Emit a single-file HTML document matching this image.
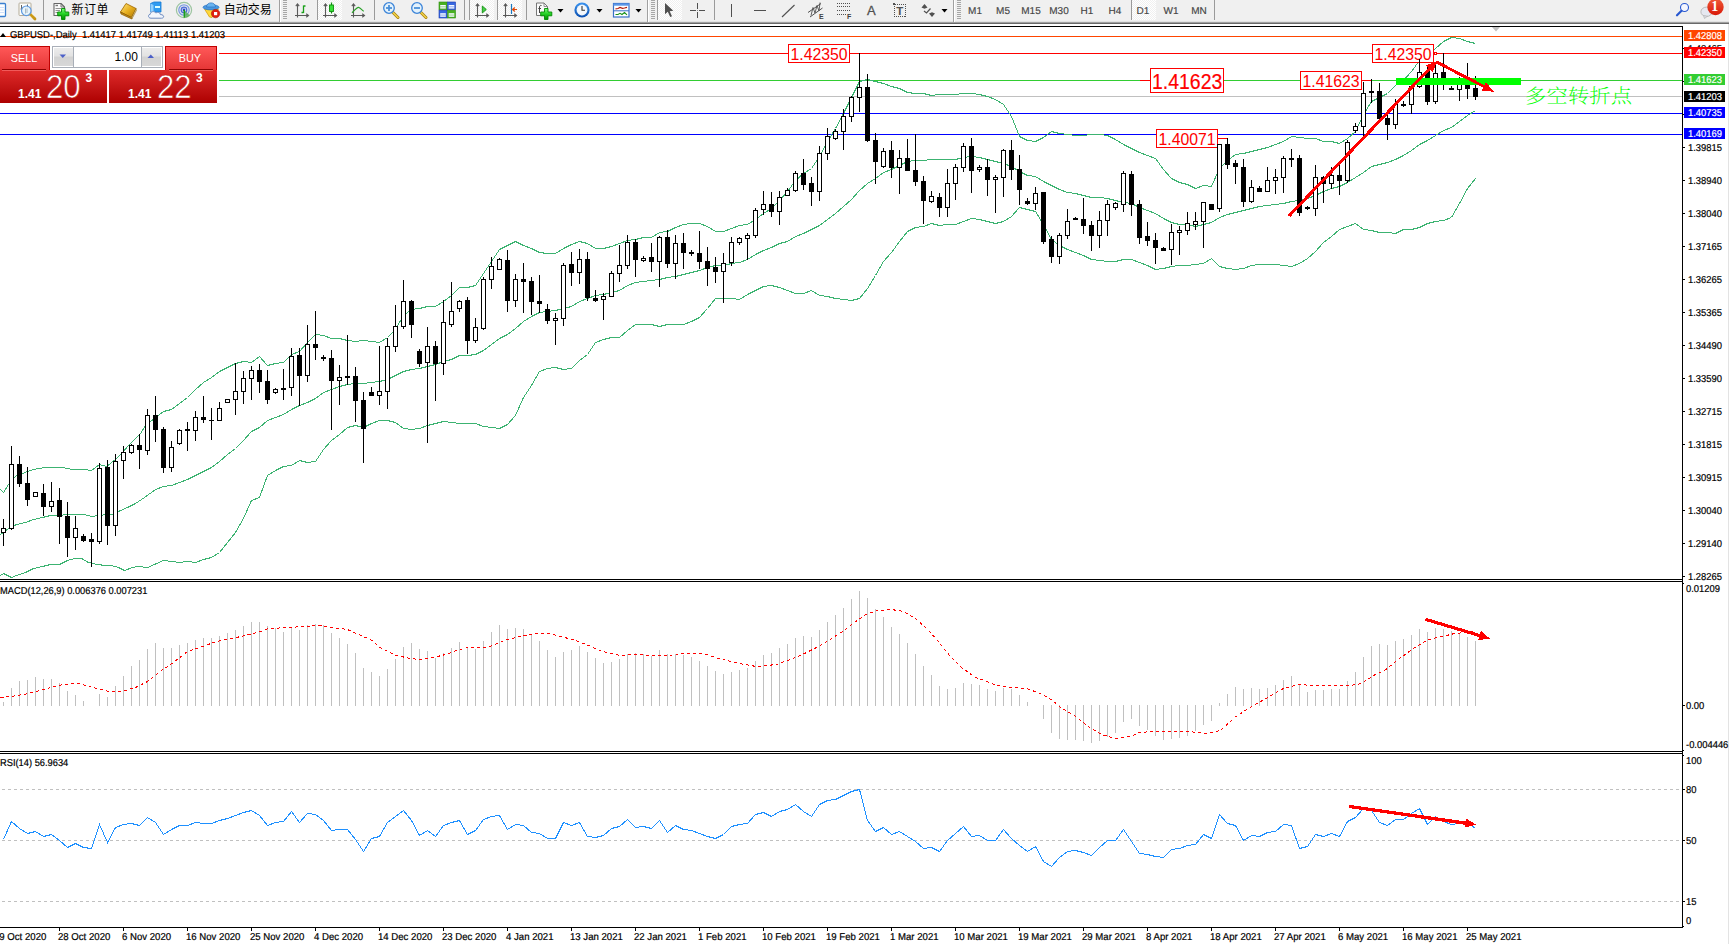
<!DOCTYPE html>
<html><head><meta charset="utf-8"><title>GBPUSD Daily</title>
<style>
html,body{margin:0;padding:0;background:#fff;}
body{width:1729px;height:944px;position:relative;overflow:hidden;font-family:"Liberation Sans","Noto Sans CJK SC",sans-serif;}
#root{position:absolute;left:0;top:0;width:1729px;height:944px;overflow:hidden;background:#fff;}
.t{position:absolute;white-space:nowrap;line-height:1;}
.s{transform-origin:0 50%;-webkit-text-stroke:0.2px;text-rendering:geometricPrecision;}
</style></head><body><div id="root">
<svg width="1729" height="944" viewBox="0 0 1729 944" style="position:absolute;left:0;top:0" shape-rendering="crispEdges">
<defs><clipPath id="cm"><rect x="0" y="27" width="1682" height="552"/></clipPath></defs>
<rect x="0" y="36" width="1682" height="1" fill="#FF4500"/>
<rect x="0" y="53" width="1682" height="1" fill="#FF0000"/>
<rect x="0" y="80" width="1682" height="1" fill="#32CD32"/>
<rect x="0" y="96" width="1682" height="1" fill="#C0C0C0"/>
<rect x="0" y="113" width="1682" height="1" fill="#0000FF"/>
<rect x="0" y="134" width="1682" height="1" fill="#0000FF"/>
<g clip-path="url(#cm)">
<polyline points="0.5,489.5 3.5,492.5 8.5,484.5 16.5,475.5 22.5,473.5 27.5,471.5 33.5,469.5 44.5,467.5 50.5,467.5 62.5,467.5 72.5,469.5 84.5,469.5 91.5,470.5 99.5,464.5 106.5,466.5 115.5,459.5 122.5,452.5 128.5,445.5 135.5,438.5 140.5,433.5 145.5,425.5 163.5,411.5 171.5,409.5 179.5,403.5 187.5,397.5 195.5,389.5 203.5,382.5 211.5,377.5 219.5,371.5 227.5,367.5 235.5,363.5 243.5,361.5 251.5,362.5 259.5,356.5 267.5,365.5 275.5,363.5 283.5,362.5 291.5,354.5 299.5,351.5 307.5,342.5 315.5,334.5 323.5,335.5 331.5,338.5 339.5,338.5 347.5,340.5 355.5,341.5 363.5,340.5 371.5,341.5 379.5,342.5 387.5,337.5 395.5,329.5 403.5,315.5 411.5,309.5 419.5,308.5 427.5,306.5 435.5,306.5 443.5,301.5 451.5,295.5 459.5,287.5 467.5,287.5 475.5,285.5 483.5,273.5 491.5,261.5 499.5,249.5 507.5,245.5 515.5,241.5 523.5,245.5 531.5,248.5 539.5,252.5 547.5,253.5 555.5,253.5 563.5,248.5 571.5,244.5 579.5,241.5 587.5,243.5 595.5,248.5 603.5,248.5 611.5,246.5 619.5,243.5 627.5,240.5 635.5,239.5 643.5,237.5 651.5,237.5 659.5,232.5 667.5,231.5 675.5,227.5 683.5,224.5 691.5,223.5 699.5,223.5 707.5,226.5 715.5,231.5 723.5,231.5 731.5,228.5 739.5,225.5 747.5,224.5 755.5,219.5 763.5,213.5 771.5,208.5 779.5,200.5 787.5,191.5 795.5,180.5 803.5,173.5 811.5,168.5 819.5,156.5 827.5,141.5 835.5,128.5 843.5,113.5 851.5,97.5 859.5,81.5 867.5,79.5 875.5,81.5 883.5,83.5 891.5,86.5 899.5,88.5 907.5,92.5 915.5,93.5 923.5,93.5 931.5,95.5 939.5,94.5 947.5,94.5 955.5,94.5 963.5,93.5 971.5,93.5 979.5,94.5 987.5,96.5 995.5,99.5 1003.5,104.5 1011.5,116.5 1019.5,136.5 1027.5,140.5 1035.5,141.5 1043.5,137.5 1051.5,131.5 1059.5,133.5 1067.5,134.5 1075.5,135.5 1083.5,135.5 1091.5,134.5 1099.5,134.5 1107.5,135.5 1115.5,139.5 1123.5,144.5 1131.5,148.5 1139.5,152.5 1147.5,155.5 1155.5,158.5 1163.5,169.5 1171.5,178.5 1179.5,182.5 1187.5,184.5 1195.5,188.5 1203.5,185.5 1211.5,186.5 1219.5,168.5 1227.5,160.5 1235.5,154.5 1243.5,153.5 1251.5,151.5 1259.5,149.5 1267.5,147.5 1275.5,144.5 1283.5,141.5 1291.5,136.5 1299.5,137.5 1307.5,138.5 1315.5,138.5 1323.5,141.5 1331.5,141.5 1339.5,143.5 1347.5,138.5 1355.5,131.5 1363.5,114.5 1371.5,101.5 1379.5,97.5 1387.5,93.5 1395.5,85.5 1403.5,80.5 1411.5,71.5 1419.5,60.5 1427.5,56.5 1435.5,48.5 1443.5,41.5 1451.5,37.5 1459.5,38.5 1467.5,41.5 1475.5,43.5" fill="none" stroke="#3CB371" stroke-width="1" />
<polyline points="0.5,534.5 8.5,528.5 16.5,524.5 25.5,522.5 33.5,519.5 42.5,517.5 50.5,515.5 59.5,515.5 67.5,514.5 76.5,514.5 84.5,514.5 91.5,516.5 99.5,515.5 106.5,514.5 111.5,514.5 118.5,511.5 127.5,507.5 135.5,503.5 144.5,497.5 155.5,489.5 163.5,486.5 171.5,485.5 179.5,482.5 187.5,479.5 195.5,475.5 203.5,471.5 211.5,467.5 219.5,461.5 227.5,454.5 235.5,448.5 243.5,440.5 251.5,431.5 259.5,427.5 267.5,420.5 275.5,417.5 283.5,414.5 291.5,409.5 299.5,405.5 307.5,402.5 315.5,398.5 323.5,392.5 331.5,389.5 339.5,386.5 347.5,384.5 355.5,383.5 363.5,383.5 371.5,382.5 379.5,381.5 387.5,379.5 395.5,375.5 403.5,371.5 411.5,369.5 419.5,368.5 427.5,366.5 435.5,364.5 443.5,361.5 451.5,359.5 459.5,355.5 467.5,355.5 475.5,354.5 483.5,350.5 491.5,344.5 499.5,338.5 507.5,334.5 515.5,328.5 523.5,321.5 531.5,316.5 539.5,312.5 547.5,311.5 555.5,310.5 563.5,308.5 571.5,306.5 579.5,301.5 587.5,298.5 595.5,295.5 603.5,294.5 611.5,292.5 619.5,290.5 627.5,285.5 635.5,282.5 643.5,281.5 651.5,280.5 659.5,279.5 667.5,277.5 675.5,276.5 683.5,274.5 691.5,272.5 699.5,270.5 707.5,267.5 715.5,265.5 723.5,265.5 731.5,263.5 739.5,262.5 747.5,259.5 755.5,254.5 763.5,250.5 771.5,247.5 779.5,243.5 787.5,241.5 795.5,236.5 803.5,233.5 811.5,229.5 819.5,225.5 827.5,219.5 835.5,213.5 843.5,206.5 851.5,199.5 859.5,190.5 867.5,183.5 875.5,178.5 883.5,172.5 891.5,169.5 899.5,165.5 907.5,161.5 915.5,160.5 923.5,160.5 931.5,159.5 939.5,159.5 947.5,159.5 955.5,159.5 963.5,157.5 971.5,156.5 979.5,157.5 987.5,159.5 995.5,161.5 1003.5,163.5 1011.5,166.5 1019.5,171.5 1027.5,175.5 1035.5,176.5 1043.5,181.5 1051.5,185.5 1059.5,189.5 1067.5,192.5 1075.5,193.5 1083.5,195.5 1091.5,197.5 1099.5,197.5 1107.5,198.5 1115.5,200.5 1123.5,202.5 1131.5,203.5 1139.5,207.5 1147.5,210.5 1155.5,213.5 1163.5,218.5 1171.5,222.5 1179.5,224.5 1187.5,224.5 1195.5,226.5 1203.5,224.5 1211.5,222.5 1219.5,217.5 1227.5,214.5 1235.5,212.5 1243.5,210.5 1251.5,208.5 1259.5,206.5 1267.5,205.5 1275.5,204.5 1283.5,203.5 1291.5,201.5 1299.5,200.5 1307.5,198.5 1315.5,195.5 1323.5,191.5 1331.5,188.5 1339.5,186.5 1347.5,182.5 1355.5,177.5 1363.5,172.5 1371.5,166.5 1379.5,164.5 1387.5,162.5 1395.5,159.5 1403.5,155.5 1411.5,150.5 1419.5,144.5 1427.5,140.5 1435.5,135.5 1443.5,130.5 1451.5,127.5 1459.5,121.5 1467.5,115.5 1475.5,110.5" fill="none" stroke="#3CB371" stroke-width="1" />
<polyline points="0.5,575.5 3.5,573.5 11.5,577.5 16.5,575.5 25.5,572.5 33.5,568.5 42.5,566.5 50.5,564.5 59.5,564.5 67.5,560.5 74.5,558.5 81.5,558.5 88.5,562.5 97.5,564.5 105.5,565.5 111.5,565.5 118.5,567.5 124.5,570.5 132.5,567.5 138.5,566.5 147.5,567.5 163.5,560.5 171.5,561.5 179.5,562.5 187.5,561.5 195.5,562.5 203.5,559.5 211.5,557.5 219.5,552.5 227.5,542.5 235.5,532.5 243.5,518.5 251.5,500.5 259.5,497.5 267.5,475.5 275.5,470.5 283.5,466.5 291.5,465.5 299.5,460.5 307.5,462.5 315.5,461.5 323.5,449.5 331.5,440.5 339.5,434.5 347.5,427.5 355.5,425.5 363.5,427.5 371.5,423.5 379.5,420.5 387.5,420.5 395.5,422.5 403.5,428.5 411.5,429.5 419.5,428.5 427.5,425.5 435.5,423.5 443.5,421.5 451.5,422.5 459.5,423.5 467.5,423.5 475.5,423.5 483.5,426.5 491.5,427.5 499.5,428.5 507.5,424.5 515.5,415.5 523.5,397.5 531.5,385.5 539.5,371.5 547.5,368.5 555.5,367.5 563.5,369.5 571.5,368.5 579.5,360.5 587.5,354.5 595.5,342.5 603.5,339.5 611.5,337.5 619.5,337.5 627.5,330.5 635.5,324.5 643.5,324.5 651.5,324.5 659.5,326.5 667.5,324.5 675.5,324.5 683.5,324.5 691.5,321.5 699.5,317.5 707.5,308.5 715.5,298.5 723.5,298.5 731.5,298.5 739.5,299.5 747.5,294.5 755.5,290.5 763.5,286.5 771.5,285.5 779.5,287.5 787.5,290.5 795.5,293.5 803.5,293.5 811.5,290.5 819.5,295.5 827.5,296.5 835.5,298.5 843.5,299.5 851.5,300.5 859.5,298.5 867.5,288.5 875.5,275.5 883.5,261.5 891.5,252.5 899.5,241.5 907.5,231.5 915.5,227.5 923.5,226.5 931.5,223.5 939.5,225.5 947.5,224.5 955.5,224.5 963.5,221.5 971.5,218.5 979.5,219.5 987.5,221.5 995.5,223.5 1003.5,221.5 1011.5,216.5 1019.5,207.5 1027.5,209.5 1035.5,211.5 1043.5,224.5 1051.5,239.5 1059.5,245.5 1067.5,249.5 1075.5,252.5 1083.5,255.5 1091.5,259.5 1099.5,260.5 1107.5,261.5 1115.5,261.5 1123.5,259.5 1131.5,259.5 1139.5,262.5 1147.5,265.5 1155.5,269.5 1163.5,268.5 1171.5,266.5 1179.5,265.5 1187.5,265.5 1195.5,264.5 1203.5,263.5 1211.5,258.5 1219.5,266.5 1227.5,268.5 1235.5,269.5 1243.5,268.5 1251.5,265.5 1259.5,264.5 1267.5,264.5 1275.5,264.5 1283.5,265.5 1291.5,266.5 1299.5,263.5 1307.5,258.5 1315.5,251.5 1323.5,242.5 1331.5,236.5 1339.5,229.5 1347.5,226.5 1355.5,223.5 1363.5,229.5 1371.5,230.5 1379.5,232.5 1387.5,232.5 1395.5,233.5 1403.5,229.5 1411.5,229.5 1419.5,227.5 1427.5,223.5 1435.5,221.5 1443.5,220.5 1451.5,217.5 1459.5,203.5 1467.5,188.5 1475.5,178.5" fill="none" stroke="#3CB371" stroke-width="1" />
</g></svg>
<div style="position:absolute;left:788px;top:44px;width:60px;height:17px;border:1px solid #FF0000;background:#fff;"></div>
<div class="t" style="left:790.5px;top:47.48px;font-size:15.8px;color:#FF0000;">1.42350</div>
<div style="position:absolute;left:1372px;top:44px;width:60px;height:17px;border:1px solid #FF0000;background:#fff;"></div>
<div class="t" style="left:1374.5px;top:47.48px;font-size:15.8px;color:#FF0000;">1.42350</div>
<div style="position:absolute;left:1300px;top:71px;width:60px;height:17px;border:1px solid #FF0000;background:#fff;"></div>
<div class="t" style="left:1302.5px;top:74.48px;font-size:15.8px;color:#FF0000;">1.41623</div>
<div style="position:absolute;left:1156px;top:129px;width:60px;height:17px;border:1px solid #FF0000;background:#fff;"></div>
<div class="t" style="left:1158.5px;top:132.48px;font-size:15.8px;color:#FF0000;">1.40071</div>
<div style="position:absolute;left:1150px;top:68px;width:72px;height:23px;border:1px solid #FF0000;background:#fff;"></div>
<div class="t" style="left:1151.5px;top:70.60px;font-size:21.9px;color:#FF0000;transform:scaleX(0.888);transform-origin:0 50%;-webkit-text-stroke:0.2px #FF0000;">1.41623</div>
<div style="position:absolute;left:1140px;top:80px;width:10px;height:1px;background:#FF0000;"></div>
<div style="position:absolute;left:1362px;top:80px;width:10px;height:1px;background:#FF0000;"></div>
<div style="position:absolute;left:1218px;top:138px;width:10px;height:1px;background:#FF0000;"></div>
<div style="position:absolute;left:1434px;top:52px;width:1px;height:1px;border:1px solid #FF0000;background:#fff"></div>
<svg width="1729" height="944" viewBox="0 0 1729 944" style="position:absolute;left:0;top:0" shape-rendering="crispEdges">
<defs><clipPath id="cm2"><rect x="0" y="27" width="1682" height="552"/></clipPath></defs>
<g clip-path="url(#cm2)">
<rect x="3" y="519" width="1" height="27" fill="#000"/>
<rect x="1" y="528" width="5" height="5" fill="#000"/><rect x="2" y="529" width="3" height="3" fill="#fff"/>
<rect x="11" y="446" width="1" height="84" fill="#000"/>
<rect x="9" y="464" width="5" height="65" fill="#000"/><rect x="10" y="465" width="3" height="63" fill="#fff"/>
<rect x="19" y="456" width="1" height="31" fill="#000"/>
<rect x="17" y="464" width="5" height="20" fill="#000"/>
<rect x="27" y="467" width="1" height="39" fill="#000"/>
<rect x="25" y="483" width="5" height="17" fill="#000"/>
<rect x="35" y="492" width="1" height="5" fill="#000"/>
<rect x="33" y="492" width="5" height="5" fill="#000"/><rect x="34" y="493" width="3" height="3" fill="#fff"/>
<rect x="43" y="484" width="1" height="32" fill="#000"/>
<rect x="41" y="493" width="5" height="14" fill="#000"/>
<rect x="51" y="482" width="1" height="30" fill="#000"/>
<rect x="49" y="501" width="5" height="6" fill="#000"/><rect x="50" y="502" width="3" height="4" fill="#fff"/>
<rect x="59" y="488" width="1" height="56" fill="#000"/>
<rect x="57" y="500" width="5" height="17" fill="#000"/>
<rect x="67" y="502" width="1" height="55" fill="#000"/>
<rect x="65" y="516" width="5" height="22" fill="#000"/>
<rect x="75" y="516" width="1" height="34" fill="#000"/>
<rect x="73" y="528" width="5" height="10" fill="#000"/><rect x="74" y="529" width="3" height="8" fill="#fff"/>
<rect x="83" y="534" width="1" height="8" fill="#000"/>
<rect x="81" y="536" width="5" height="5" fill="#000"/>
<rect x="91" y="533" width="1" height="34" fill="#000"/>
<rect x="89" y="539" width="5" height="3" fill="#000"/>
<rect x="99" y="463" width="1" height="81" fill="#000"/>
<rect x="97" y="468" width="5" height="74" fill="#000"/><rect x="98" y="469" width="3" height="72" fill="#fff"/>
<rect x="107" y="460" width="1" height="85" fill="#000"/>
<rect x="105" y="467" width="5" height="59" fill="#000"/>
<rect x="115" y="454" width="1" height="82" fill="#000"/>
<rect x="113" y="461" width="5" height="65" fill="#000"/><rect x="114" y="462" width="3" height="63" fill="#fff"/>
<rect x="123" y="446" width="1" height="33" fill="#000"/>
<rect x="121" y="452" width="5" height="9" fill="#000"/><rect x="122" y="453" width="3" height="7" fill="#fff"/>
<rect x="131" y="444" width="1" height="10" fill="#000"/>
<rect x="129" y="445" width="5" height="8" fill="#000"/><rect x="130" y="446" width="3" height="6" fill="#fff"/>
<rect x="139" y="434" width="1" height="35" fill="#000"/>
<rect x="137" y="445" width="5" height="5" fill="#000"/>
<rect x="147" y="409" width="1" height="46" fill="#000"/>
<rect x="145" y="415" width="5" height="36" fill="#000"/><rect x="146" y="416" width="3" height="34" fill="#fff"/>
<rect x="155" y="396" width="1" height="46" fill="#000"/>
<rect x="153" y="415" width="5" height="15" fill="#000"/>
<rect x="163" y="427" width="1" height="46" fill="#000"/>
<rect x="161" y="429" width="5" height="39" fill="#000"/>
<rect x="171" y="441" width="1" height="31" fill="#000"/>
<rect x="169" y="447" width="5" height="21" fill="#000"/><rect x="170" y="448" width="3" height="19" fill="#fff"/>
<rect x="179" y="429" width="1" height="16" fill="#000"/>
<rect x="177" y="430" width="5" height="14" fill="#000"/><rect x="178" y="431" width="3" height="12" fill="#fff"/>
<rect x="187" y="422" width="1" height="29" fill="#000"/>
<rect x="185" y="429" width="5" height="2" fill="#000"/>
<rect x="195" y="411" width="1" height="30" fill="#000"/>
<rect x="193" y="417" width="5" height="14" fill="#000"/><rect x="194" y="418" width="3" height="12" fill="#fff"/>
<rect x="203" y="396" width="1" height="27" fill="#000"/>
<rect x="201" y="417" width="5" height="3" fill="#000"/>
<rect x="211" y="408" width="1" height="32" fill="#000"/>
<rect x="209" y="420" width="5" height="1" fill="#000"/>
<rect x="219" y="402" width="1" height="19" fill="#000"/>
<rect x="217" y="408" width="5" height="13" fill="#000"/><rect x="218" y="409" width="3" height="11" fill="#fff"/>
<rect x="227" y="399" width="1" height="4" fill="#000"/>
<rect x="225" y="399" width="5" height="4" fill="#000"/><rect x="226" y="400" width="3" height="2" fill="#fff"/>
<rect x="235" y="363" width="1" height="52" fill="#000"/>
<rect x="233" y="391" width="5" height="9" fill="#000"/><rect x="234" y="392" width="3" height="7" fill="#fff"/>
<rect x="243" y="371" width="1" height="33" fill="#000"/>
<rect x="241" y="378" width="5" height="14" fill="#000"/><rect x="242" y="379" width="3" height="12" fill="#fff"/>
<rect x="251" y="366" width="1" height="34" fill="#000"/>
<rect x="249" y="370" width="5" height="9" fill="#000"/><rect x="250" y="371" width="3" height="7" fill="#fff"/>
<rect x="259" y="364" width="1" height="29" fill="#000"/>
<rect x="257" y="370" width="5" height="12" fill="#000"/>
<rect x="267" y="370" width="1" height="34" fill="#000"/>
<rect x="265" y="381" width="5" height="19" fill="#000"/>
<rect x="275" y="388" width="1" height="6" fill="#000"/>
<rect x="273" y="389" width="5" height="4" fill="#000"/><rect x="274" y="390" width="3" height="2" fill="#fff"/>
<rect x="283" y="369" width="1" height="31" fill="#000"/>
<rect x="281" y="388" width="5" height="2" fill="#000"/>
<rect x="291" y="348" width="1" height="48" fill="#000"/>
<rect x="289" y="356" width="5" height="32" fill="#000"/><rect x="290" y="357" width="3" height="30" fill="#fff"/>
<rect x="299" y="348" width="1" height="58" fill="#000"/>
<rect x="297" y="355" width="5" height="21" fill="#000"/>
<rect x="307" y="325" width="1" height="57" fill="#000"/>
<rect x="305" y="344" width="5" height="32" fill="#000"/><rect x="306" y="345" width="3" height="30" fill="#fff"/>
<rect x="315" y="311" width="1" height="49" fill="#000"/>
<rect x="313" y="344" width="5" height="4" fill="#000"/>
<rect x="323" y="355" width="1" height="6" fill="#000"/>
<rect x="321" y="357" width="5" height="2" fill="#000"/>
<rect x="331" y="350" width="1" height="80" fill="#000"/>
<rect x="329" y="358" width="5" height="23" fill="#000"/>
<rect x="339" y="365" width="1" height="40" fill="#000"/>
<rect x="337" y="377" width="5" height="4" fill="#000"/><rect x="338" y="378" width="3" height="2" fill="#fff"/>
<rect x="347" y="335" width="1" height="50" fill="#000"/>
<rect x="345" y="376" width="5" height="2" fill="#000"/>
<rect x="355" y="367" width="1" height="55" fill="#000"/>
<rect x="353" y="376" width="5" height="25" fill="#000"/>
<rect x="363" y="392" width="1" height="71" fill="#000"/>
<rect x="361" y="400" width="5" height="29" fill="#000"/>
<rect x="371" y="387" width="1" height="9" fill="#000"/>
<rect x="369" y="392" width="5" height="4" fill="#000"/>
<rect x="379" y="346" width="1" height="59" fill="#000"/>
<rect x="377" y="391" width="5" height="5" fill="#000"/><rect x="378" y="392" width="3" height="3" fill="#fff"/>
<rect x="387" y="338" width="1" height="71" fill="#000"/>
<rect x="385" y="346" width="5" height="46" fill="#000"/><rect x="386" y="347" width="3" height="44" fill="#fff"/>
<rect x="395" y="305" width="1" height="47" fill="#000"/>
<rect x="393" y="326" width="5" height="21" fill="#000"/><rect x="394" y="327" width="3" height="19" fill="#fff"/>
<rect x="403" y="280" width="1" height="49" fill="#000"/>
<rect x="401" y="301" width="5" height="26" fill="#000"/><rect x="402" y="302" width="3" height="24" fill="#fff"/>
<rect x="411" y="300" width="1" height="38" fill="#000"/>
<rect x="409" y="301" width="5" height="24" fill="#000"/>
<rect x="419" y="349" width="1" height="18" fill="#000"/>
<rect x="417" y="351" width="5" height="13" fill="#000"/>
<rect x="427" y="327" width="1" height="116" fill="#000"/>
<rect x="425" y="346" width="5" height="17" fill="#000"/><rect x="426" y="347" width="3" height="15" fill="#fff"/>
<rect x="435" y="341" width="1" height="60" fill="#000"/>
<rect x="433" y="346" width="5" height="18" fill="#000"/>
<rect x="443" y="300" width="1" height="75" fill="#000"/>
<rect x="441" y="322" width="5" height="42" fill="#000"/><rect x="442" y="323" width="3" height="40" fill="#fff"/>
<rect x="451" y="282" width="1" height="45" fill="#000"/>
<rect x="449" y="311" width="5" height="14" fill="#000"/><rect x="450" y="312" width="3" height="12" fill="#fff"/>
<rect x="459" y="300" width="1" height="12" fill="#000"/>
<rect x="457" y="301" width="5" height="8" fill="#000"/><rect x="458" y="302" width="3" height="6" fill="#fff"/>
<rect x="467" y="297" width="1" height="57" fill="#000"/>
<rect x="465" y="300" width="5" height="41" fill="#000"/>
<rect x="475" y="318" width="1" height="25" fill="#000"/>
<rect x="473" y="327" width="5" height="14" fill="#000"/><rect x="474" y="328" width="3" height="12" fill="#fff"/>
<rect x="483" y="277" width="1" height="53" fill="#000"/>
<rect x="481" y="279" width="5" height="50" fill="#000"/><rect x="482" y="280" width="3" height="48" fill="#fff"/>
<rect x="491" y="257" width="1" height="32" fill="#000"/>
<rect x="489" y="266" width="5" height="14" fill="#000"/><rect x="490" y="267" width="3" height="12" fill="#fff"/>
<rect x="499" y="258" width="1" height="12" fill="#000"/>
<rect x="497" y="259" width="5" height="11" fill="#000"/><rect x="498" y="260" width="3" height="9" fill="#fff"/>
<rect x="507" y="250" width="1" height="62" fill="#000"/>
<rect x="505" y="260" width="5" height="41" fill="#000"/>
<rect x="515" y="274" width="1" height="33" fill="#000"/>
<rect x="513" y="279" width="5" height="22" fill="#000"/><rect x="514" y="280" width="3" height="20" fill="#fff"/>
<rect x="523" y="263" width="1" height="50" fill="#000"/>
<rect x="521" y="279" width="5" height="3" fill="#000"/>
<rect x="531" y="277" width="1" height="38" fill="#000"/>
<rect x="529" y="281" width="5" height="21" fill="#000"/>
<rect x="539" y="275" width="1" height="38" fill="#000"/>
<rect x="537" y="301" width="5" height="3" fill="#000"/>
<rect x="547" y="304" width="1" height="20" fill="#000"/>
<rect x="545" y="309" width="5" height="12" fill="#000"/>
<rect x="555" y="313" width="1" height="32" fill="#000"/>
<rect x="553" y="318" width="5" height="3" fill="#000"/><rect x="554" y="319" width="3" height="1" fill="#fff"/>
<rect x="563" y="263" width="1" height="63" fill="#000"/>
<rect x="561" y="265" width="5" height="54" fill="#000"/><rect x="562" y="266" width="3" height="52" fill="#fff"/>
<rect x="571" y="252" width="1" height="34" fill="#000"/>
<rect x="569" y="264" width="5" height="9" fill="#000"/>
<rect x="579" y="249" width="1" height="35" fill="#000"/>
<rect x="577" y="259" width="5" height="14" fill="#000"/><rect x="578" y="260" width="3" height="12" fill="#fff"/>
<rect x="587" y="252" width="1" height="49" fill="#000"/>
<rect x="585" y="259" width="5" height="39" fill="#000"/>
<rect x="595" y="290" width="1" height="12" fill="#000"/>
<rect x="593" y="298" width="5" height="3" fill="#000"/>
<rect x="603" y="293" width="1" height="27" fill="#000"/>
<rect x="601" y="296" width="5" height="4" fill="#000"/><rect x="602" y="297" width="3" height="2" fill="#fff"/>
<rect x="611" y="271" width="1" height="26" fill="#000"/>
<rect x="609" y="273" width="5" height="24" fill="#000"/><rect x="610" y="274" width="3" height="22" fill="#fff"/>
<rect x="619" y="245" width="1" height="37" fill="#000"/>
<rect x="617" y="265" width="5" height="9" fill="#000"/><rect x="618" y="266" width="3" height="7" fill="#fff"/>
<rect x="627" y="235" width="1" height="34" fill="#000"/>
<rect x="625" y="242" width="5" height="24" fill="#000"/><rect x="626" y="243" width="3" height="22" fill="#fff"/>
<rect x="635" y="239" width="1" height="38" fill="#000"/>
<rect x="633" y="242" width="5" height="18" fill="#000"/>
<rect x="643" y="256" width="1" height="6" fill="#000"/>
<rect x="641" y="258" width="5" height="3" fill="#000"/><rect x="642" y="259" width="3" height="1" fill="#fff"/>
<rect x="651" y="243" width="1" height="29" fill="#000"/>
<rect x="649" y="257" width="5" height="5" fill="#000"/>
<rect x="659" y="236" width="1" height="51" fill="#000"/>
<rect x="657" y="237" width="5" height="25" fill="#000"/><rect x="658" y="238" width="3" height="23" fill="#fff"/>
<rect x="667" y="230" width="1" height="38" fill="#000"/>
<rect x="665" y="237" width="5" height="27" fill="#000"/>
<rect x="675" y="235" width="1" height="44" fill="#000"/>
<rect x="673" y="243" width="5" height="21" fill="#000"/><rect x="674" y="244" width="3" height="19" fill="#fff"/>
<rect x="683" y="233" width="1" height="36" fill="#000"/>
<rect x="681" y="243" width="5" height="10" fill="#000"/>
<rect x="691" y="250" width="1" height="6" fill="#000"/>
<rect x="689" y="252" width="5" height="2" fill="#000"/>
<rect x="699" y="231" width="1" height="38" fill="#000"/>
<rect x="697" y="253" width="5" height="9" fill="#000"/>
<rect x="707" y="247" width="1" height="39" fill="#000"/>
<rect x="705" y="261" width="5" height="8" fill="#000"/>
<rect x="715" y="257" width="1" height="26" fill="#000"/>
<rect x="713" y="267" width="5" height="5" fill="#000"/>
<rect x="723" y="253" width="1" height="50" fill="#000"/>
<rect x="721" y="263" width="5" height="9" fill="#000"/><rect x="722" y="264" width="3" height="7" fill="#fff"/>
<rect x="731" y="237" width="1" height="29" fill="#000"/>
<rect x="729" y="242" width="5" height="21" fill="#000"/><rect x="730" y="243" width="3" height="19" fill="#fff"/>
<rect x="739" y="237" width="1" height="8" fill="#000"/>
<rect x="737" y="238" width="5" height="5" fill="#000"/><rect x="738" y="239" width="3" height="3" fill="#fff"/>
<rect x="747" y="233" width="1" height="27" fill="#000"/>
<rect x="745" y="235" width="5" height="4" fill="#000"/><rect x="746" y="236" width="3" height="2" fill="#fff"/>
<rect x="755" y="208" width="1" height="30" fill="#000"/>
<rect x="753" y="210" width="5" height="26" fill="#000"/><rect x="754" y="211" width="3" height="24" fill="#fff"/>
<rect x="763" y="191" width="1" height="24" fill="#000"/>
<rect x="761" y="204" width="5" height="6" fill="#000"/><rect x="762" y="205" width="3" height="4" fill="#fff"/>
<rect x="771" y="192" width="1" height="25" fill="#000"/>
<rect x="769" y="204" width="5" height="8" fill="#000"/>
<rect x="779" y="191" width="1" height="34" fill="#000"/>
<rect x="777" y="197" width="5" height="15" fill="#000"/><rect x="778" y="198" width="3" height="13" fill="#fff"/>
<rect x="787" y="188" width="1" height="8" fill="#000"/>
<rect x="785" y="190" width="5" height="6" fill="#000"/><rect x="786" y="191" width="3" height="4" fill="#fff"/>
<rect x="795" y="171" width="1" height="21" fill="#000"/>
<rect x="793" y="173" width="5" height="18" fill="#000"/><rect x="794" y="174" width="3" height="16" fill="#fff"/>
<rect x="803" y="159" width="1" height="31" fill="#000"/>
<rect x="801" y="173" width="5" height="12" fill="#000"/>
<rect x="811" y="177" width="1" height="29" fill="#000"/>
<rect x="809" y="183" width="5" height="9" fill="#000"/>
<rect x="819" y="146" width="1" height="55" fill="#000"/>
<rect x="817" y="153" width="5" height="39" fill="#000"/><rect x="818" y="154" width="3" height="37" fill="#fff"/>
<rect x="827" y="128" width="1" height="32" fill="#000"/>
<rect x="825" y="136" width="5" height="18" fill="#000"/><rect x="826" y="137" width="3" height="16" fill="#fff"/>
<rect x="835" y="129" width="1" height="11" fill="#000"/>
<rect x="833" y="131" width="5" height="8" fill="#000"/><rect x="834" y="132" width="3" height="6" fill="#fff"/>
<rect x="843" y="109" width="1" height="41" fill="#000"/>
<rect x="841" y="116" width="5" height="16" fill="#000"/><rect x="842" y="117" width="3" height="14" fill="#fff"/>
<rect x="851" y="96" width="1" height="26" fill="#000"/>
<rect x="849" y="97" width="5" height="20" fill="#000"/><rect x="850" y="98" width="3" height="18" fill="#fff"/>
<rect x="859" y="53" width="1" height="59" fill="#000"/>
<rect x="857" y="87" width="5" height="11" fill="#000"/><rect x="858" y="88" width="3" height="9" fill="#fff"/>
<rect x="867" y="74" width="1" height="68" fill="#000"/>
<rect x="865" y="87" width="5" height="54" fill="#000"/>
<rect x="875" y="133" width="1" height="51" fill="#000"/>
<rect x="873" y="140" width="5" height="22" fill="#000"/>
<rect x="883" y="148" width="1" height="20" fill="#000"/>
<rect x="881" y="151" width="5" height="16" fill="#000"/><rect x="882" y="152" width="3" height="14" fill="#fff"/>
<rect x="891" y="141" width="1" height="37" fill="#000"/>
<rect x="889" y="150" width="5" height="18" fill="#000"/>
<rect x="899" y="150" width="1" height="44" fill="#000"/>
<rect x="897" y="158" width="5" height="10" fill="#000"/><rect x="898" y="159" width="3" height="8" fill="#fff"/>
<rect x="907" y="139" width="1" height="32" fill="#000"/>
<rect x="905" y="158" width="5" height="13" fill="#000"/>
<rect x="915" y="134" width="1" height="52" fill="#000"/>
<rect x="913" y="170" width="5" height="12" fill="#000"/>
<rect x="923" y="176" width="1" height="48" fill="#000"/>
<rect x="921" y="181" width="5" height="20" fill="#000"/>
<rect x="931" y="191" width="1" height="12" fill="#000"/>
<rect x="929" y="196" width="5" height="6" fill="#000"/><rect x="930" y="197" width="3" height="4" fill="#fff"/>
<rect x="939" y="193" width="1" height="24" fill="#000"/>
<rect x="937" y="197" width="5" height="11" fill="#000"/>
<rect x="947" y="169" width="1" height="48" fill="#000"/>
<rect x="945" y="183" width="5" height="25" fill="#000"/><rect x="946" y="184" width="3" height="23" fill="#fff"/>
<rect x="955" y="164" width="1" height="36" fill="#000"/>
<rect x="953" y="167" width="5" height="17" fill="#000"/><rect x="954" y="168" width="3" height="15" fill="#fff"/>
<rect x="963" y="143" width="1" height="29" fill="#000"/>
<rect x="961" y="146" width="5" height="22" fill="#000"/><rect x="962" y="147" width="3" height="20" fill="#fff"/>
<rect x="971" y="138" width="1" height="55" fill="#000"/>
<rect x="969" y="146" width="5" height="25" fill="#000"/>
<rect x="979" y="165" width="1" height="7" fill="#000"/>
<rect x="977" y="167" width="5" height="3" fill="#000"/><rect x="978" y="168" width="3" height="1" fill="#fff"/>
<rect x="987" y="159" width="1" height="37" fill="#000"/>
<rect x="985" y="167" width="5" height="13" fill="#000"/>
<rect x="995" y="175" width="1" height="38" fill="#000"/>
<rect x="993" y="177" width="5" height="3" fill="#000"/><rect x="994" y="178" width="3" height="1" fill="#fff"/>
<rect x="1003" y="149" width="1" height="48" fill="#000"/>
<rect x="1001" y="150" width="5" height="28" fill="#000"/><rect x="1002" y="151" width="3" height="26" fill="#fff"/>
<rect x="1011" y="140" width="1" height="40" fill="#000"/>
<rect x="1009" y="150" width="5" height="20" fill="#000"/>
<rect x="1019" y="155" width="1" height="50" fill="#000"/>
<rect x="1017" y="169" width="5" height="21" fill="#000"/>
<rect x="1027" y="198" width="1" height="7" fill="#000"/>
<rect x="1025" y="201" width="5" height="3" fill="#000"/>
<rect x="1035" y="187" width="1" height="23" fill="#000"/>
<rect x="1033" y="193" width="5" height="11" fill="#000"/><rect x="1034" y="194" width="3" height="9" fill="#fff"/>
<rect x="1043" y="192" width="1" height="52" fill="#000"/>
<rect x="1041" y="192" width="5" height="50" fill="#000"/>
<rect x="1051" y="236" width="1" height="27" fill="#000"/>
<rect x="1049" y="239" width="5" height="18" fill="#000"/>
<rect x="1059" y="233" width="1" height="31" fill="#000"/>
<rect x="1057" y="235" width="5" height="22" fill="#000"/><rect x="1058" y="236" width="3" height="20" fill="#fff"/>
<rect x="1067" y="209" width="1" height="30" fill="#000"/>
<rect x="1065" y="221" width="5" height="15" fill="#000"/><rect x="1066" y="222" width="3" height="13" fill="#fff"/>
<rect x="1075" y="217" width="1" height="3" fill="#000"/>
<rect x="1073" y="218" width="5" height="2" fill="#000"/>
<rect x="1083" y="198" width="1" height="36" fill="#000"/>
<rect x="1081" y="219" width="5" height="7" fill="#000"/>
<rect x="1091" y="221" width="1" height="30" fill="#000"/>
<rect x="1089" y="225" width="5" height="11" fill="#000"/>
<rect x="1099" y="211" width="1" height="37" fill="#000"/>
<rect x="1097" y="220" width="5" height="16" fill="#000"/><rect x="1098" y="221" width="3" height="14" fill="#fff"/>
<rect x="1107" y="200" width="1" height="36" fill="#000"/>
<rect x="1105" y="204" width="5" height="17" fill="#000"/><rect x="1106" y="205" width="3" height="15" fill="#fff"/>
<rect x="1115" y="202" width="1" height="8" fill="#000"/>
<rect x="1113" y="203" width="5" height="5" fill="#000"/><rect x="1114" y="204" width="3" height="3" fill="#fff"/>
<rect x="1123" y="171" width="1" height="41" fill="#000"/>
<rect x="1121" y="173" width="5" height="32" fill="#000"/><rect x="1122" y="174" width="3" height="30" fill="#fff"/>
<rect x="1131" y="171" width="1" height="45" fill="#000"/>
<rect x="1129" y="174" width="5" height="31" fill="#000"/>
<rect x="1139" y="200" width="1" height="44" fill="#000"/>
<rect x="1137" y="204" width="5" height="34" fill="#000"/>
<rect x="1147" y="222" width="1" height="24" fill="#000"/>
<rect x="1145" y="236" width="5" height="5" fill="#000"/>
<rect x="1155" y="233" width="1" height="31" fill="#000"/>
<rect x="1153" y="240" width="5" height="8" fill="#000"/>
<rect x="1163" y="247" width="1" height="4" fill="#000"/>
<rect x="1161" y="248" width="5" height="3" fill="#000"/>
<rect x="1171" y="224" width="1" height="41" fill="#000"/>
<rect x="1169" y="232" width="5" height="18" fill="#000"/><rect x="1170" y="233" width="3" height="16" fill="#fff"/>
<rect x="1179" y="226" width="1" height="29" fill="#000"/>
<rect x="1177" y="230" width="5" height="3" fill="#000"/><rect x="1178" y="231" width="3" height="1" fill="#fff"/>
<rect x="1187" y="212" width="1" height="23" fill="#000"/>
<rect x="1185" y="223" width="5" height="8" fill="#000"/><rect x="1186" y="224" width="3" height="6" fill="#fff"/>
<rect x="1195" y="212" width="1" height="18" fill="#000"/>
<rect x="1193" y="221" width="5" height="4" fill="#000"/><rect x="1194" y="222" width="3" height="2" fill="#fff"/>
<rect x="1203" y="202" width="1" height="46" fill="#000"/>
<rect x="1201" y="202" width="5" height="20" fill="#000"/><rect x="1202" y="203" width="3" height="18" fill="#fff"/>
<rect x="1211" y="204" width="1" height="6" fill="#000"/>
<rect x="1209" y="204" width="5" height="6" fill="#000"/>
<rect x="1219" y="144" width="1" height="68" fill="#000"/>
<rect x="1217" y="144" width="5" height="65" fill="#000"/><rect x="1218" y="145" width="3" height="63" fill="#fff"/>
<rect x="1227" y="138" width="1" height="31" fill="#000"/>
<rect x="1225" y="144" width="5" height="21" fill="#000"/>
<rect x="1235" y="160" width="1" height="24" fill="#000"/>
<rect x="1233" y="163" width="5" height="4" fill="#000"/>
<rect x="1243" y="159" width="1" height="48" fill="#000"/>
<rect x="1241" y="167" width="5" height="35" fill="#000"/>
<rect x="1251" y="180" width="1" height="23" fill="#000"/>
<rect x="1249" y="187" width="5" height="15" fill="#000"/><rect x="1250" y="188" width="3" height="13" fill="#fff"/>
<rect x="1259" y="186" width="1" height="6" fill="#000"/>
<rect x="1257" y="188" width="5" height="4" fill="#000"/>
<rect x="1267" y="167" width="1" height="25" fill="#000"/>
<rect x="1265" y="180" width="5" height="12" fill="#000"/><rect x="1266" y="181" width="3" height="10" fill="#fff"/>
<rect x="1275" y="169" width="1" height="25" fill="#000"/>
<rect x="1273" y="177" width="5" height="4" fill="#000"/><rect x="1274" y="178" width="3" height="2" fill="#fff"/>
<rect x="1283" y="156" width="1" height="37" fill="#000"/>
<rect x="1281" y="158" width="5" height="20" fill="#000"/><rect x="1282" y="159" width="3" height="18" fill="#fff"/>
<rect x="1291" y="149" width="1" height="18" fill="#000"/>
<rect x="1289" y="158" width="5" height="2" fill="#000"/>
<rect x="1299" y="155" width="1" height="61" fill="#000"/>
<rect x="1297" y="158" width="5" height="55" fill="#000"/>
<rect x="1307" y="206" width="1" height="4" fill="#000"/>
<rect x="1305" y="207" width="5" height="2" fill="#000"/>
<rect x="1315" y="165" width="1" height="51" fill="#000"/>
<rect x="1313" y="177" width="5" height="32" fill="#000"/><rect x="1314" y="178" width="3" height="30" fill="#fff"/>
<rect x="1323" y="176" width="1" height="27" fill="#000"/>
<rect x="1321" y="177" width="5" height="7" fill="#000"/>
<rect x="1331" y="167" width="1" height="22" fill="#000"/>
<rect x="1329" y="175" width="5" height="9" fill="#000"/><rect x="1330" y="176" width="3" height="7" fill="#fff"/>
<rect x="1339" y="164" width="1" height="31" fill="#000"/>
<rect x="1337" y="175" width="5" height="6" fill="#000"/>
<rect x="1347" y="140" width="1" height="43" fill="#000"/>
<rect x="1345" y="142" width="5" height="39" fill="#000"/><rect x="1346" y="143" width="3" height="37" fill="#fff"/>
<rect x="1355" y="123" width="1" height="10" fill="#000"/>
<rect x="1353" y="126" width="5" height="5" fill="#000"/><rect x="1354" y="127" width="3" height="3" fill="#fff"/>
<rect x="1363" y="82" width="1" height="54" fill="#000"/>
<rect x="1361" y="93" width="5" height="34" fill="#000"/><rect x="1362" y="94" width="3" height="32" fill="#fff"/>
<rect x="1371" y="79" width="1" height="24" fill="#000"/>
<rect x="1369" y="91" width="5" height="2" fill="#000"/>
<rect x="1379" y="83" width="1" height="36" fill="#000"/>
<rect x="1377" y="91" width="5" height="28" fill="#000"/>
<rect x="1387" y="114" width="1" height="26" fill="#000"/>
<rect x="1385" y="118" width="5" height="7" fill="#000"/>
<rect x="1395" y="99" width="1" height="30" fill="#000"/>
<rect x="1393" y="104" width="5" height="21" fill="#000"/><rect x="1394" y="105" width="3" height="19" fill="#fff"/>
<rect x="1403" y="101" width="1" height="6" fill="#000"/>
<rect x="1401" y="104" width="5" height="2" fill="#000"/>
<rect x="1411" y="86" width="1" height="28" fill="#000"/>
<rect x="1409" y="86" width="5" height="19" fill="#000"/><rect x="1410" y="87" width="3" height="17" fill="#fff"/>
<rect x="1419" y="59" width="1" height="29" fill="#000"/>
<rect x="1417" y="72" width="5" height="15" fill="#000"/><rect x="1418" y="73" width="3" height="13" fill="#fff"/>
<rect x="1427" y="67" width="1" height="38" fill="#000"/>
<rect x="1425" y="71" width="5" height="31" fill="#000"/>
<rect x="1435" y="62" width="1" height="42" fill="#000"/>
<rect x="1433" y="73" width="5" height="29" fill="#000"/><rect x="1434" y="74" width="3" height="27" fill="#fff"/>
<rect x="1443" y="53" width="1" height="37" fill="#000"/>
<rect x="1441" y="72" width="5" height="6" fill="#000"/>
<rect x="1451" y="86" width="1" height="4" fill="#000"/>
<rect x="1449" y="88" width="5" height="2" fill="#000"/>
<rect x="1459" y="77" width="1" height="24" fill="#000"/>
<rect x="1457" y="83" width="5" height="7" fill="#000"/><rect x="1458" y="84" width="3" height="5" fill="#fff"/>
<rect x="1467" y="63" width="1" height="36" fill="#000"/>
<rect x="1465" y="84" width="5" height="5" fill="#000"/>
<rect x="1475" y="76" width="1" height="24" fill="#000"/>
<rect x="1473" y="88" width="5" height="9" fill="#000"/>
</g>
<rect x="1396" y="78" width="125" height="7" fill="#00FF00"/>
<line x1="1289" y1="216" x2="1430.6" y2="67.5" stroke="#FF0000" stroke-width="3.0"/>
<polygon points="1436.8,61.0 1432.8,72.4 1425.6,65.5" fill="#FF0000"/>
<line x1="1436.5" y1="62" x2="1485.6" y2="87.4" stroke="#FF0000" stroke-width="3.0"/>
<polygon points="1494.0,91.8 1481.7,90.6 1485.9,82.4" fill="#FF0000"/>
<rect x="3" y="702" width="1" height="4" fill="#C0C0C0"/>
<rect x="11" y="688" width="1" height="18" fill="#C0C0C0"/>
<rect x="19" y="681" width="1" height="25" fill="#C0C0C0"/>
<rect x="27" y="680" width="1" height="26" fill="#C0C0C0"/>
<rect x="35" y="677" width="1" height="29" fill="#C0C0C0"/>
<rect x="43" y="679" width="1" height="27" fill="#C0C0C0"/>
<rect x="51" y="679" width="1" height="27" fill="#C0C0C0"/>
<rect x="59" y="683" width="1" height="23" fill="#C0C0C0"/>
<rect x="67" y="691" width="1" height="15" fill="#C0C0C0"/>
<rect x="75" y="695" width="1" height="11" fill="#C0C0C0"/>
<rect x="83" y="701" width="1" height="5" fill="#C0C0C0"/>
<rect x="99" y="694" width="1" height="12" fill="#C0C0C0"/>
<rect x="107" y="697" width="1" height="9" fill="#C0C0C0"/>
<rect x="115" y="686" width="1" height="20" fill="#C0C0C0"/>
<rect x="123" y="676" width="1" height="30" fill="#C0C0C0"/>
<rect x="131" y="666" width="1" height="40" fill="#C0C0C0"/>
<rect x="139" y="660" width="1" height="46" fill="#C0C0C0"/>
<rect x="147" y="649" width="1" height="57" fill="#C0C0C0"/>
<rect x="155" y="643" width="1" height="63" fill="#C0C0C0"/>
<rect x="163" y="648" width="1" height="58" fill="#C0C0C0"/>
<rect x="171" y="648" width="1" height="58" fill="#C0C0C0"/>
<rect x="179" y="645" width="1" height="61" fill="#C0C0C0"/>
<rect x="187" y="643" width="1" height="63" fill="#C0C0C0"/>
<rect x="195" y="640" width="1" height="66" fill="#C0C0C0"/>
<rect x="203" y="638" width="1" height="68" fill="#C0C0C0"/>
<rect x="211" y="638" width="1" height="68" fill="#C0C0C0"/>
<rect x="219" y="636" width="1" height="70" fill="#C0C0C0"/>
<rect x="227" y="633" width="1" height="73" fill="#C0C0C0"/>
<rect x="235" y="630" width="1" height="76" fill="#C0C0C0"/>
<rect x="243" y="626" width="1" height="80" fill="#C0C0C0"/>
<rect x="251" y="622" width="1" height="84" fill="#C0C0C0"/>
<rect x="259" y="622" width="1" height="84" fill="#C0C0C0"/>
<rect x="267" y="626" width="1" height="80" fill="#C0C0C0"/>
<rect x="275" y="628" width="1" height="78" fill="#C0C0C0"/>
<rect x="283" y="632" width="1" height="74" fill="#C0C0C0"/>
<rect x="291" y="628" width="1" height="78" fill="#C0C0C0"/>
<rect x="299" y="630" width="1" height="76" fill="#C0C0C0"/>
<rect x="307" y="625" width="1" height="81" fill="#C0C0C0"/>
<rect x="315" y="624" width="1" height="82" fill="#C0C0C0"/>
<rect x="323" y="625" width="1" height="81" fill="#C0C0C0"/>
<rect x="331" y="633" width="1" height="73" fill="#C0C0C0"/>
<rect x="339" y="638" width="1" height="68" fill="#C0C0C0"/>
<rect x="347" y="644" width="1" height="62" fill="#C0C0C0"/>
<rect x="355" y="653" width="1" height="53" fill="#C0C0C0"/>
<rect x="363" y="668" width="1" height="38" fill="#C0C0C0"/>
<rect x="371" y="672" width="1" height="34" fill="#C0C0C0"/>
<rect x="379" y="676" width="1" height="30" fill="#C0C0C0"/>
<rect x="387" y="669" width="1" height="37" fill="#C0C0C0"/>
<rect x="395" y="659" width="1" height="47" fill="#C0C0C0"/>
<rect x="403" y="647" width="1" height="59" fill="#C0C0C0"/>
<rect x="411" y="643" width="1" height="63" fill="#C0C0C0"/>
<rect x="419" y="649" width="1" height="57" fill="#C0C0C0"/>
<rect x="427" y="651" width="1" height="55" fill="#C0C0C0"/>
<rect x="435" y="658" width="1" height="48" fill="#C0C0C0"/>
<rect x="443" y="653" width="1" height="53" fill="#C0C0C0"/>
<rect x="451" y="648" width="1" height="58" fill="#C0C0C0"/>
<rect x="459" y="642" width="1" height="64" fill="#C0C0C0"/>
<rect x="467" y="647" width="1" height="59" fill="#C0C0C0"/>
<rect x="475" y="649" width="1" height="57" fill="#C0C0C0"/>
<rect x="483" y="641" width="1" height="65" fill="#C0C0C0"/>
<rect x="491" y="632" width="1" height="74" fill="#C0C0C0"/>
<rect x="499" y="625" width="1" height="81" fill="#C0C0C0"/>
<rect x="507" y="629" width="1" height="77" fill="#C0C0C0"/>
<rect x="515" y="628" width="1" height="78" fill="#C0C0C0"/>
<rect x="523" y="629" width="1" height="77" fill="#C0C0C0"/>
<rect x="531" y="634" width="1" height="72" fill="#C0C0C0"/>
<rect x="539" y="641" width="1" height="65" fill="#C0C0C0"/>
<rect x="547" y="650" width="1" height="56" fill="#C0C0C0"/>
<rect x="555" y="657" width="1" height="49" fill="#C0C0C0"/>
<rect x="563" y="652" width="1" height="54" fill="#C0C0C0"/>
<rect x="571" y="650" width="1" height="56" fill="#C0C0C0"/>
<rect x="579" y="646" width="1" height="60" fill="#C0C0C0"/>
<rect x="587" y="652" width="1" height="54" fill="#C0C0C0"/>
<rect x="595" y="658" width="1" height="48" fill="#C0C0C0"/>
<rect x="603" y="663" width="1" height="43" fill="#C0C0C0"/>
<rect x="611" y="662" width="1" height="44" fill="#C0C0C0"/>
<rect x="619" y="659" width="1" height="47" fill="#C0C0C0"/>
<rect x="627" y="654" width="1" height="52" fill="#C0C0C0"/>
<rect x="635" y="653" width="1" height="53" fill="#C0C0C0"/>
<rect x="643" y="654" width="1" height="52" fill="#C0C0C0"/>
<rect x="651" y="656" width="1" height="50" fill="#C0C0C0"/>
<rect x="659" y="650" width="1" height="56" fill="#C0C0C0"/>
<rect x="667" y="654" width="1" height="52" fill="#C0C0C0"/>
<rect x="675" y="654" width="1" height="52" fill="#C0C0C0"/>
<rect x="683" y="655" width="1" height="51" fill="#C0C0C0"/>
<rect x="691" y="657" width="1" height="49" fill="#C0C0C0"/>
<rect x="699" y="661" width="1" height="45" fill="#C0C0C0"/>
<rect x="707" y="666" width="1" height="40" fill="#C0C0C0"/>
<rect x="715" y="671" width="1" height="35" fill="#C0C0C0"/>
<rect x="723" y="674" width="1" height="32" fill="#C0C0C0"/>
<rect x="731" y="672" width="1" height="34" fill="#C0C0C0"/>
<rect x="739" y="670" width="1" height="36" fill="#C0C0C0"/>
<rect x="747" y="668" width="1" height="38" fill="#C0C0C0"/>
<rect x="755" y="661" width="1" height="45" fill="#C0C0C0"/>
<rect x="763" y="655" width="1" height="51" fill="#C0C0C0"/>
<rect x="771" y="653" width="1" height="53" fill="#C0C0C0"/>
<rect x="779" y="648" width="1" height="58" fill="#C0C0C0"/>
<rect x="787" y="644" width="1" height="62" fill="#C0C0C0"/>
<rect x="795" y="638" width="1" height="68" fill="#C0C0C0"/>
<rect x="803" y="636" width="1" height="70" fill="#C0C0C0"/>
<rect x="811" y="637" width="1" height="69" fill="#C0C0C0"/>
<rect x="819" y="630" width="1" height="76" fill="#C0C0C0"/>
<rect x="827" y="622" width="1" height="84" fill="#C0C0C0"/>
<rect x="835" y="615" width="1" height="91" fill="#C0C0C0"/>
<rect x="843" y="608" width="1" height="98" fill="#C0C0C0"/>
<rect x="851" y="599" width="1" height="107" fill="#C0C0C0"/>
<rect x="859" y="591" width="1" height="115" fill="#C0C0C0"/>
<rect x="867" y="598" width="1" height="108" fill="#C0C0C0"/>
<rect x="875" y="609" width="1" height="97" fill="#C0C0C0"/>
<rect x="883" y="617" width="1" height="89" fill="#C0C0C0"/>
<rect x="891" y="627" width="1" height="79" fill="#C0C0C0"/>
<rect x="899" y="634" width="1" height="72" fill="#C0C0C0"/>
<rect x="907" y="643" width="1" height="63" fill="#C0C0C0"/>
<rect x="915" y="654" width="1" height="52" fill="#C0C0C0"/>
<rect x="923" y="666" width="1" height="40" fill="#C0C0C0"/>
<rect x="931" y="675" width="1" height="31" fill="#C0C0C0"/>
<rect x="939" y="686" width="1" height="20" fill="#C0C0C0"/>
<rect x="947" y="689" width="1" height="17" fill="#C0C0C0"/>
<rect x="955" y="688" width="1" height="18" fill="#C0C0C0"/>
<rect x="963" y="683" width="1" height="23" fill="#C0C0C0"/>
<rect x="971" y="684" width="1" height="22" fill="#C0C0C0"/>
<rect x="979" y="685" width="1" height="21" fill="#C0C0C0"/>
<rect x="987" y="689" width="1" height="17" fill="#C0C0C0"/>
<rect x="995" y="691" width="1" height="15" fill="#C0C0C0"/>
<rect x="1003" y="688" width="1" height="18" fill="#C0C0C0"/>
<rect x="1011" y="689" width="1" height="17" fill="#C0C0C0"/>
<rect x="1019" y="695" width="1" height="11" fill="#C0C0C0"/>
<rect x="1027" y="702" width="1" height="4" fill="#C0C0C0"/>
<rect x="1043" y="705" width="1" height="14" fill="#C0C0C0"/>
<rect x="1051" y="705" width="1" height="28" fill="#C0C0C0"/>
<rect x="1059" y="705" width="1" height="34" fill="#C0C0C0"/>
<rect x="1067" y="705" width="1" height="35" fill="#C0C0C0"/>
<rect x="1075" y="705" width="1" height="35" fill="#C0C0C0"/>
<rect x="1083" y="705" width="1" height="36" fill="#C0C0C0"/>
<rect x="1091" y="705" width="1" height="38" fill="#C0C0C0"/>
<rect x="1099" y="705" width="1" height="36" fill="#C0C0C0"/>
<rect x="1107" y="705" width="1" height="32" fill="#C0C0C0"/>
<rect x="1115" y="705" width="1" height="28" fill="#C0C0C0"/>
<rect x="1123" y="705" width="1" height="17" fill="#C0C0C0"/>
<rect x="1131" y="705" width="1" height="14" fill="#C0C0C0"/>
<rect x="1139" y="705" width="1" height="21" fill="#C0C0C0"/>
<rect x="1147" y="705" width="1" height="25" fill="#C0C0C0"/>
<rect x="1155" y="705" width="1" height="31" fill="#C0C0C0"/>
<rect x="1163" y="705" width="1" height="35" fill="#C0C0C0"/>
<rect x="1171" y="705" width="1" height="34" fill="#C0C0C0"/>
<rect x="1179" y="705" width="1" height="33" fill="#C0C0C0"/>
<rect x="1187" y="705" width="1" height="31" fill="#C0C0C0"/>
<rect x="1195" y="705" width="1" height="26" fill="#C0C0C0"/>
<rect x="1203" y="705" width="1" height="20" fill="#C0C0C0"/>
<rect x="1211" y="705" width="1" height="16" fill="#C0C0C0"/>
<rect x="1219" y="703" width="1" height="3" fill="#C0C0C0"/>
<rect x="1227" y="694" width="1" height="12" fill="#C0C0C0"/>
<rect x="1235" y="687" width="1" height="19" fill="#C0C0C0"/>
<rect x="1243" y="689" width="1" height="17" fill="#C0C0C0"/>
<rect x="1251" y="688" width="1" height="18" fill="#C0C0C0"/>
<rect x="1259" y="689" width="1" height="17" fill="#C0C0C0"/>
<rect x="1267" y="688" width="1" height="18" fill="#C0C0C0"/>
<rect x="1275" y="685" width="1" height="21" fill="#C0C0C0"/>
<rect x="1283" y="680" width="1" height="26" fill="#C0C0C0"/>
<rect x="1291" y="676" width="1" height="30" fill="#C0C0C0"/>
<rect x="1299" y="685" width="1" height="21" fill="#C0C0C0"/>
<rect x="1307" y="692" width="1" height="14" fill="#C0C0C0"/>
<rect x="1315" y="690" width="1" height="16" fill="#C0C0C0"/>
<rect x="1323" y="690" width="1" height="16" fill="#C0C0C0"/>
<rect x="1331" y="689" width="1" height="17" fill="#C0C0C0"/>
<rect x="1339" y="689" width="1" height="17" fill="#C0C0C0"/>
<rect x="1347" y="681" width="1" height="25" fill="#C0C0C0"/>
<rect x="1355" y="672" width="1" height="34" fill="#C0C0C0"/>
<rect x="1363" y="657" width="1" height="49" fill="#C0C0C0"/>
<rect x="1371" y="646" width="1" height="60" fill="#C0C0C0"/>
<rect x="1379" y="644" width="1" height="62" fill="#C0C0C0"/>
<rect x="1387" y="645" width="1" height="61" fill="#C0C0C0"/>
<rect x="1395" y="641" width="1" height="65" fill="#C0C0C0"/>
<rect x="1403" y="639" width="1" height="67" fill="#C0C0C0"/>
<rect x="1411" y="635" width="1" height="71" fill="#C0C0C0"/>
<rect x="1419" y="629" width="1" height="77" fill="#C0C0C0"/>
<rect x="1427" y="632" width="1" height="74" fill="#C0C0C0"/>
<rect x="1435" y="628" width="1" height="78" fill="#C0C0C0"/>
<rect x="1443" y="629" width="1" height="77" fill="#C0C0C0"/>
<rect x="1451" y="631" width="1" height="75" fill="#C0C0C0"/>
<rect x="1459" y="633" width="1" height="73" fill="#C0C0C0"/>
<rect x="1467" y="637" width="1" height="69" fill="#C0C0C0"/>
<rect x="1475" y="641" width="1" height="65" fill="#C0C0C0"/>
<polyline points="0.5,697.5 11.5,696.5 28.5,693.5 43.5,689.5 57.5,685.5 72.5,683.5 78.5,683.5 92.5,687.5 109.5,691.5 121.5,691.5 135.5,687.5 147.5,681.5 161.5,670.5 173.5,662.5 187.5,651.5 202.5,646.5 216.5,641.5 231.5,638.5 245.5,635.5 260.5,631.5 268.5,628.5 289.5,627.5 303.5,626.5 318.5,625.5 332.5,627.5 347.5,629.5 358.5,634.5 370.5,639.5 381.5,648.5 396.5,655.5 410.5,658.5 419.5,659.5 433.5,657.5 445.5,654.5 459.5,649.5 468.5,647.5 485.5,647.5 492.5,645.5 507.5,639.5 524.5,635.5 536.5,633.5 550.5,633.5 559.5,636.5 573.5,639.5 588.5,645.5 602.5,651.5 620.5,655.5 634.5,654.5 651.5,655.5 669.5,655.5 680.5,653.5 703.5,653.5 715.5,657.5 730.5,661.5 744.5,664.5 756.5,666.5 776.5,664.5 787.5,660.5 802.5,654.5 816.5,647.5 831.5,638.5 842.5,631.5 854.5,622.5 865.5,614.5 877.5,610.5 891.5,609.5 903.5,611.5 915.5,618.5 926.5,628.5 938.5,641.5 949.5,655.5 961.5,667.5 975.5,677.5 981.5,679.5 994.5,684.5 1003.5,686.5 1026.5,688.5 1040.5,693.5 1052.5,700.5 1060.5,707.5 1075.5,716.5 1089.5,727.5 1101.5,734.5 1115.5,738.5 1130.5,736.5 1139.5,732.5 1153.5,731.5 1188.5,731.5 1205.5,733.5 1220.5,730.5 1234.5,717.5 1251.5,706.5 1269.5,696.5 1283.5,688.5 1298.5,684.5 1312.5,685.5 1350.5,685.5 1361.5,683.5 1373.5,675.5 1384.5,670.5 1399.5,658.5 1413.5,648.5 1428.5,639.5 1442.5,636.5 1454.5,633.5 1475.5,631.5" fill="none" stroke="#FF0000" stroke-width="1" stroke-dasharray="3,3"/>
<line x1="2" y1="789.5" x2="1682" y2="789.5" stroke="#C0C0C0" stroke-width="1" stroke-dasharray="3,3"/>
<line x1="2" y1="840.5" x2="1682" y2="840.5" stroke="#C0C0C0" stroke-width="1" stroke-dasharray="3,3"/>
<line x1="2" y1="901.5" x2="1682" y2="901.5" stroke="#C0C0C0" stroke-width="1" stroke-dasharray="3,3"/>
<polyline points="3.5,839.5 11.5,821.5 19.5,828.5 27.5,833.5 35.5,831.5 43.5,836.5 51.5,834.5 59.5,840.5 67.5,847.5 75.5,843.5 83.5,847.5 91.5,848.5 99.5,824.5 107.5,842.5 115.5,827.5 123.5,824.5 131.5,823.5 139.5,825.5 147.5,817.5 155.5,822.5 163.5,834.5 171.5,829.5 179.5,825.5 187.5,825.5 195.5,822.5 203.5,823.5 211.5,823.5 219.5,820.5 227.5,818.5 235.5,815.5 243.5,812.5 251.5,810.5 259.5,815.5 267.5,825.5 275.5,822.5 283.5,821.5 291.5,811.5 299.5,822.5 307.5,813.5 315.5,814.5 323.5,820.5 331.5,830.5 339.5,829.5 347.5,829.5 355.5,839.5 363.5,851.5 371.5,838.5 379.5,836.5 387.5,822.5 395.5,816.5 403.5,810.5 411.5,820.5 419.5,835.5 427.5,830.5 435.5,836.5 443.5,825.5 451.5,822.5 459.5,820.5 467.5,834.5 475.5,830.5 483.5,819.5 491.5,816.5 499.5,815.5 507.5,829.5 515.5,824.5 523.5,825.5 531.5,832.5 539.5,833.5 547.5,838.5 555.5,838.5 563.5,822.5 571.5,825.5 579.5,822.5 587.5,836.5 595.5,837.5 603.5,835.5 611.5,828.5 619.5,826.5 627.5,819.5 635.5,827.5 643.5,826.5 651.5,828.5 659.5,820.5 667.5,832.5 675.5,825.5 683.5,829.5 691.5,830.5 699.5,833.5 707.5,836.5 715.5,838.5 723.5,834.5 731.5,826.5 739.5,824.5 747.5,823.5 755.5,814.5 763.5,812.5 771.5,816.5 779.5,811.5 787.5,809.5 795.5,804.5 803.5,811.5 811.5,816.5 819.5,804.5 827.5,800.5 835.5,799.5 843.5,795.5 851.5,791.5 859.5,789.5 867.5,820.5 875.5,831.5 883.5,827.5 891.5,834.5 899.5,831.5 907.5,836.5 915.5,841.5 923.5,848.5 931.5,847.5 939.5,851.5 947.5,840.5 955.5,833.5 963.5,826.5 971.5,836.5 979.5,835.5 987.5,840.5 995.5,840.5 1003.5,829.5 1011.5,838.5 1019.5,845.5 1027.5,851.5 1035.5,846.5 1043.5,861.5 1051.5,866.5 1059.5,857.5 1067.5,851.5 1075.5,850.5 1083.5,852.5 1091.5,855.5 1099.5,847.5 1107.5,840.5 1115.5,840.5 1123.5,829.5 1131.5,841.5 1139.5,853.5 1147.5,854.5 1155.5,856.5 1163.5,857.5 1171.5,849.5 1179.5,848.5 1187.5,845.5 1195.5,844.5 1203.5,834.5 1211.5,838.5 1219.5,814.5 1227.5,823.5 1235.5,825.5 1243.5,840.5 1251.5,835.5 1259.5,836.5 1267.5,832.5 1275.5,831.5 1283.5,824.5 1291.5,825.5 1299.5,848.5 1307.5,846.5 1315.5,834.5 1323.5,836.5 1331.5,833.5 1339.5,836.5 1347.5,821.5 1355.5,817.5 1363.5,808.5 1371.5,810.5 1379.5,822.5 1387.5,825.5 1395.5,819.5 1403.5,819.5 1411.5,813.5 1419.5,808.5 1427.5,824.5 1435.5,816.5 1443.5,821.5 1451.5,824.5 1459.5,823.5 1467.5,822.5 1475.5,828.5" fill="none" stroke="#1E90FF" stroke-width="1" />
<line x1="1425.5" y1="619.3" x2="1481.4" y2="636.1" stroke="#FF0000" stroke-width="3.2"/>
<polygon points="1490.0,638.7 1478.1,640.1 1480.8,630.9" fill="#FF0000"/>
<line x1="1348.7" y1="806.4" x2="1467.3" y2="823.4" stroke="#FF0000" stroke-width="3.3"/>
<polygon points="1476.2,824.7 1464.7,827.7 1466.0,818.6" fill="#FF0000"/>
<rect x="0" y="26" width="1683" height="1" fill="#000"/>
<rect x="1682" y="26" width="1" height="902" fill="#000"/>
<rect x="0" y="579" width="1683" height="1" fill="#000"/>
<rect x="0" y="581" width="1683" height="1" fill="#000"/>
<rect x="0" y="751" width="1683" height="1" fill="#000"/>
<rect x="0" y="753" width="1683" height="1" fill="#000"/>
<rect x="0" y="927" width="1683" height="1" fill="#000"/>
<rect x="1728" y="24" width="1" height="920" fill="#E3E3E3"/>
</svg>
<div style="position:absolute;left:1683px;top:48px;width:2px;height:1px;background:#000;"></div>
<div class="t s" style="left:1688.2px;top:45px;font-size:10.0px;color:#000;transform:scaleX(0.940);">1.42465</div>
<div style="position:absolute;left:1683px;top:81px;width:2px;height:1px;background:#000;"></div>
<div style="position:absolute;left:1683px;top:114px;width:2px;height:1px;background:#000;"></div>
<div style="position:absolute;left:1683px;top:147px;width:2px;height:1px;background:#000;"></div>
<div class="t s" style="left:1688.2px;top:144px;font-size:10.0px;color:#000;transform:scaleX(0.940);">1.39815</div>
<div style="position:absolute;left:1683px;top:180px;width:2px;height:1px;background:#000;"></div>
<div class="t s" style="left:1688.2px;top:177px;font-size:10.0px;color:#000;transform:scaleX(0.940);">1.38940</div>
<div style="position:absolute;left:1683px;top:213px;width:2px;height:1px;background:#000;"></div>
<div class="t s" style="left:1688.2px;top:210px;font-size:10.0px;color:#000;transform:scaleX(0.940);">1.38040</div>
<div style="position:absolute;left:1683px;top:246px;width:2px;height:1px;background:#000;"></div>
<div class="t s" style="left:1688.2px;top:243px;font-size:10.0px;color:#000;transform:scaleX(0.940);">1.37165</div>
<div style="position:absolute;left:1683px;top:279px;width:2px;height:1px;background:#000;"></div>
<div class="t s" style="left:1688.2px;top:276px;font-size:10.0px;color:#000;transform:scaleX(0.940);">1.36265</div>
<div style="position:absolute;left:1683px;top:312px;width:2px;height:1px;background:#000;"></div>
<div class="t s" style="left:1688.2px;top:309px;font-size:10.0px;color:#000;transform:scaleX(0.940);">1.35365</div>
<div style="position:absolute;left:1683px;top:345px;width:2px;height:1px;background:#000;"></div>
<div class="t s" style="left:1688.2px;top:342px;font-size:10.0px;color:#000;transform:scaleX(0.940);">1.34490</div>
<div style="position:absolute;left:1683px;top:378px;width:2px;height:1px;background:#000;"></div>
<div class="t s" style="left:1688.2px;top:375px;font-size:10.0px;color:#000;transform:scaleX(0.940);">1.33590</div>
<div style="position:absolute;left:1683px;top:411px;width:2px;height:1px;background:#000;"></div>
<div class="t s" style="left:1688.2px;top:408px;font-size:10.0px;color:#000;transform:scaleX(0.940);">1.32715</div>
<div style="position:absolute;left:1683px;top:444px;width:2px;height:1px;background:#000;"></div>
<div class="t s" style="left:1688.2px;top:441px;font-size:10.0px;color:#000;transform:scaleX(0.940);">1.31815</div>
<div style="position:absolute;left:1683px;top:477px;width:2px;height:1px;background:#000;"></div>
<div class="t s" style="left:1688.2px;top:474px;font-size:10.0px;color:#000;transform:scaleX(0.940);">1.30915</div>
<div style="position:absolute;left:1683px;top:510px;width:2px;height:1px;background:#000;"></div>
<div class="t s" style="left:1688.2px;top:507px;font-size:10.0px;color:#000;transform:scaleX(0.940);">1.30040</div>
<div style="position:absolute;left:1683px;top:543px;width:2px;height:1px;background:#000;"></div>
<div class="t s" style="left:1688.2px;top:540px;font-size:10.0px;color:#000;transform:scaleX(0.940);">1.29140</div>
<div style="position:absolute;left:1683px;top:576px;width:2px;height:1px;background:#000;"></div>
<div class="t s" style="left:1688.2px;top:573px;font-size:10.0px;color:#000;transform:scaleX(0.940);">1.28265</div>
<div style="position:absolute;left:1684px;top:30px;width:41px;height:11px;background:#FF4500;"></div>
<div class="t s" style="left:1688.2px;top:32px;font-size:10.0px;color:#fff;transform:scaleX(0.940);">1.42808</div>
<div style="position:absolute;left:1684px;top:47px;width:41px;height:11px;background:#FF0000;"></div>
<div class="t s" style="left:1688.2px;top:49px;font-size:10.0px;color:#fff;transform:scaleX(0.940);">1.42350</div>
<div style="position:absolute;left:1684px;top:74px;width:41px;height:11px;background:#32CD32;"></div>
<div class="t s" style="left:1688.2px;top:76px;font-size:10.0px;color:#fff;transform:scaleX(0.940);">1.41623</div>
<div style="position:absolute;left:1684px;top:91px;width:41px;height:11px;background:#000000;"></div>
<div class="t s" style="left:1688.2px;top:93px;font-size:10.0px;color:#fff;transform:scaleX(0.940);">1.41203</div>
<div style="position:absolute;left:1684px;top:107px;width:41px;height:11px;background:#0000FF;"></div>
<div class="t s" style="left:1688.2px;top:109px;font-size:10.0px;color:#fff;transform:scaleX(0.940);">1.40735</div>
<div style="position:absolute;left:1684px;top:128px;width:41px;height:11px;background:#0000FF;"></div>
<div class="t s" style="left:1688.2px;top:130px;font-size:10.0px;color:#fff;transform:scaleX(0.940);">1.40169</div>
<div class="t s" style="left:1686px;top:585px;font-size:10.0px;color:#000;transform:scaleX(0.940);">0.01209</div>
<div class="t s" style="left:1686px;top:702px;font-size:10.0px;color:#000;transform:scaleX(0.940);">0.00</div>
<div class="t s" style="left:1686px;top:741px;font-size:10.0px;color:#000;transform:scaleX(0.940);">-0.004446</div>
<div style="position:absolute;left:1683px;top:583px;width:1px;height:1px;background:#000;"></div>
<div style="position:absolute;left:1683px;top:705px;width:2px;height:1px;background:#000;"></div>
<div style="position:absolute;left:1683px;top:750px;width:1px;height:1px;background:#000;"></div>
<div class="t s" style="left:1686px;top:757px;font-size:10.0px;color:#000;transform:scaleX(0.940);">100</div>
<div class="t s" style="left:1686px;top:786px;font-size:10.0px;color:#000;transform:scaleX(0.940);">80</div>
<div class="t s" style="left:1686px;top:837px;font-size:10.0px;color:#000;transform:scaleX(0.940);">50</div>
<div class="t s" style="left:1686px;top:898px;font-size:10.0px;color:#000;transform:scaleX(0.940);">15</div>
<div class="t s" style="left:1686px;top:917px;font-size:10.0px;color:#000;transform:scaleX(0.940);">0</div>
<div style="position:absolute;left:1683px;top:755px;width:1px;height:1px;background:#000;"></div>
<div style="position:absolute;left:1683px;top:789px;width:2px;height:1px;background:#000;"></div>
<div style="position:absolute;left:1683px;top:840px;width:2px;height:1px;background:#000;"></div>
<div style="position:absolute;left:1683px;top:901px;width:2px;height:1px;background:#000;"></div>
<div style="position:absolute;left:1683px;top:926px;width:1px;height:1px;background:#000;"></div>
<div class="t s" style="left:-6.3px;top:933px;font-size:10.0px;color:#000;transform:scaleX(0.960);">19 Oct 2020</div>
<div style="position:absolute;left:59px;top:928px;width:1px;height:3px;background:#000;"></div>
<div class="t s" style="left:57.7px;top:933px;font-size:10.0px;color:#000;transform:scaleX(0.960);">28 Oct 2020</div>
<div style="position:absolute;left:123px;top:928px;width:1px;height:3px;background:#000;"></div>
<div class="t s" style="left:121.7px;top:933px;font-size:10.0px;color:#000;transform:scaleX(0.960);">6 Nov 2020</div>
<div style="position:absolute;left:187px;top:928px;width:1px;height:3px;background:#000;"></div>
<div class="t s" style="left:185.7px;top:933px;font-size:10.0px;color:#000;transform:scaleX(0.960);">16 Nov 2020</div>
<div style="position:absolute;left:251px;top:928px;width:1px;height:3px;background:#000;"></div>
<div class="t s" style="left:249.7px;top:933px;font-size:10.0px;color:#000;transform:scaleX(0.960);">25 Nov 2020</div>
<div style="position:absolute;left:315px;top:928px;width:1px;height:3px;background:#000;"></div>
<div class="t s" style="left:313.7px;top:933px;font-size:10.0px;color:#000;transform:scaleX(0.960);">4 Dec 2020</div>
<div style="position:absolute;left:379px;top:928px;width:1px;height:3px;background:#000;"></div>
<div class="t s" style="left:377.7px;top:933px;font-size:10.0px;color:#000;transform:scaleX(0.960);">14 Dec 2020</div>
<div style="position:absolute;left:443px;top:928px;width:1px;height:3px;background:#000;"></div>
<div class="t s" style="left:441.7px;top:933px;font-size:10.0px;color:#000;transform:scaleX(0.960);">23 Dec 2020</div>
<div style="position:absolute;left:507px;top:928px;width:1px;height:3px;background:#000;"></div>
<div class="t s" style="left:505.7px;top:933px;font-size:10.0px;color:#000;transform:scaleX(0.960);">4 Jan 2021</div>
<div style="position:absolute;left:571px;top:928px;width:1px;height:3px;background:#000;"></div>
<div class="t s" style="left:569.7px;top:933px;font-size:10.0px;color:#000;transform:scaleX(0.960);">13 Jan 2021</div>
<div style="position:absolute;left:635px;top:928px;width:1px;height:3px;background:#000;"></div>
<div class="t s" style="left:633.7px;top:933px;font-size:10.0px;color:#000;transform:scaleX(0.960);">22 Jan 2021</div>
<div style="position:absolute;left:699px;top:928px;width:1px;height:3px;background:#000;"></div>
<div class="t s" style="left:697.7px;top:933px;font-size:10.0px;color:#000;transform:scaleX(0.960);">1 Feb 2021</div>
<div style="position:absolute;left:763px;top:928px;width:1px;height:3px;background:#000;"></div>
<div class="t s" style="left:761.7px;top:933px;font-size:10.0px;color:#000;transform:scaleX(0.960);">10 Feb 2021</div>
<div style="position:absolute;left:827px;top:928px;width:1px;height:3px;background:#000;"></div>
<div class="t s" style="left:825.7px;top:933px;font-size:10.0px;color:#000;transform:scaleX(0.960);">19 Feb 2021</div>
<div style="position:absolute;left:891px;top:928px;width:1px;height:3px;background:#000;"></div>
<div class="t s" style="left:889.7px;top:933px;font-size:10.0px;color:#000;transform:scaleX(0.960);">1 Mar 2021</div>
<div style="position:absolute;left:955px;top:928px;width:1px;height:3px;background:#000;"></div>
<div class="t s" style="left:953.7px;top:933px;font-size:10.0px;color:#000;transform:scaleX(0.960);">10 Mar 2021</div>
<div style="position:absolute;left:1019px;top:928px;width:1px;height:3px;background:#000;"></div>
<div class="t s" style="left:1017.7px;top:933px;font-size:10.0px;color:#000;transform:scaleX(0.960);">19 Mar 2021</div>
<div style="position:absolute;left:1083px;top:928px;width:1px;height:3px;background:#000;"></div>
<div class="t s" style="left:1081.7px;top:933px;font-size:10.0px;color:#000;transform:scaleX(0.960);">29 Mar 2021</div>
<div style="position:absolute;left:1147px;top:928px;width:1px;height:3px;background:#000;"></div>
<div class="t s" style="left:1145.7px;top:933px;font-size:10.0px;color:#000;transform:scaleX(0.960);">8 Apr 2021</div>
<div style="position:absolute;left:1211px;top:928px;width:1px;height:3px;background:#000;"></div>
<div class="t s" style="left:1209.7px;top:933px;font-size:10.0px;color:#000;transform:scaleX(0.960);">18 Apr 2021</div>
<div style="position:absolute;left:1275px;top:928px;width:1px;height:3px;background:#000;"></div>
<div class="t s" style="left:1273.7px;top:933px;font-size:10.0px;color:#000;transform:scaleX(0.960);">27 Apr 2021</div>
<div style="position:absolute;left:1339px;top:928px;width:1px;height:3px;background:#000;"></div>
<div class="t s" style="left:1337.7px;top:933px;font-size:10.0px;color:#000;transform:scaleX(0.960);">6 May 2021</div>
<div style="position:absolute;left:1403px;top:928px;width:1px;height:3px;background:#000;"></div>
<div class="t s" style="left:1401.7px;top:933px;font-size:10.0px;color:#000;transform:scaleX(0.960);">16 May 2021</div>
<div style="position:absolute;left:1467px;top:928px;width:1px;height:3px;background:#000;"></div>
<div class="t s" style="left:1465.7px;top:933px;font-size:10.0px;color:#000;transform:scaleX(0.960);">25 May 2021</div>
<div class="t s" style="left:9.6px;top:31px;font-size:10.0px;color:#000;transform:scaleX(0.945);">GBPUSD-,Daily&nbsp; 1.41417 1.41749 1.41113 1.41203</div>
<svg style="position:absolute;left:0;top:32px" width="6" height="5"><polygon points="0,5 3,1 6,5" fill="#000"/></svg>
<div class="t s" style="left:0px;top:587px;font-size:10.0px;color:#000;transform:scaleX(0.930);">MACD(12,26,9) 0.006376 0.007231</div>
<div class="t s" style="left:0px;top:759px;font-size:10.0px;color:#000;transform:scaleX(0.930);">RSI(14) 56.9634</div>
<div class="t" style="left:1525px;top:83.6px;transform:scaleY(0.9);font-size:21.3px;color:#00FF00;font-family:'Noto Serif CJK SC','Noto Sans CJK SC',serif;font-weight:200;letter-spacing:0.15px;">多空转折点</div>
<svg style="position:absolute;left:1491px;top:27px" width="10" height="6"><polygon points="1,0 9,0 5,4.5" fill="#C0C0C0"/></svg>
<div id="tp" style="position:absolute;left:0;top:44px;width:219px;height:61px;background:#fff;">
<div style="position:absolute;left:0;top:2px;width:49px;height:25px;background:linear-gradient(#ff5858,#e23232);border:1px solid #c00000;border-left:none;border-bottom:none;"></div>
<div style="position:absolute;left:165px;top:2px;width:50px;height:25px;background:linear-gradient(#ff5858,#e23232);border:1px solid #c00000;border-bottom:none;"></div>
<div style="position:absolute;left:0;top:26px;width:107px;height:33px;background:linear-gradient(#df2a2a,#c21414 55%,#ad0000);"></div>
<div style="position:absolute;left:109px;top:26px;width:108px;height:33px;background:linear-gradient(#df2a2a,#c21414 55%,#ad0000);"></div>
<div style="position:absolute;left:2px;top:25px;width:44px;height:1px;background:#8e0000;"></div><div style="position:absolute;left:2px;top:26px;width:44px;height:1px;background:#f05a5a;"></div>
<div style="position:absolute;left:169px;top:25px;width:44px;height:1px;background:#8e0000;"></div><div style="position:absolute;left:169px;top:26px;width:44px;height:1px;background:#f05a5a;"></div>
<div class="t" style="left:10.8px;top:8.5px;font-size:10.8px;color:#fff;">SELL</div>
<div class="t" style="left:178.8px;top:8.5px;font-size:10.8px;color:#fff;">BUY</div>
<div style="position:absolute;left:52px;top:2px;width:109px;height:20px;border:1px solid #a9afb8;background:#fff;"></div>
<div style="position:absolute;left:54px;top:4px;width:19px;height:18px;background:linear-gradient(#ececec,#e2e2e2 45%,#d2d2d2 50%,#d8d8d8);"></div>
<div style="position:absolute;left:73px;top:3px;width:1px;height:20px;background:#a9afb8;"></div>
<div style="position:absolute;left:141px;top:3px;width:1px;height:20px;background:#a9afb8;"></div>
<div style="position:absolute;left:142px;top:4px;width:19px;height:18px;background:linear-gradient(#ececec,#e2e2e2 45%,#d2d2d2 50%,#d8d8d8);"></div>
<svg style="position:absolute;left:59px;top:10px" width="8" height="5"><polygon points="0.5,0.5 7,0.5 3.8,4" fill="#4c60c8"/></svg>
<svg style="position:absolute;left:147px;top:10px" width="8" height="5"><polygon points="0.5,4 7,4 3.8,0.5" fill="#4c60c8"/></svg>
<div class="t" style="left:114.5px;top:6.5px;font-size:12px;color:#000;">1.00</div>
<div class="t" style="left:18px;top:44px;font-size:12px;font-weight:bold;color:#fff;letter-spacing:0px;">1.41</div>
<div class="t" style="left:46px;top:25.5px;font-size:33.5px;color:#fff;-webkit-text-stroke:0.7px #c61a1a;transform:scaleX(0.93);transform-origin:0 0;">20</div>
<div class="t" style="left:85.5px;top:27.5px;font-size:12px;font-weight:bold;color:#fff;">3</div>
<div class="t" style="left:128px;top:44px;font-size:12px;font-weight:bold;color:#fff;letter-spacing:0px;">1.41</div>
<div class="t" style="left:156.5px;top:25.5px;font-size:33.5px;color:#fff;-webkit-text-stroke:0.7px #c61a1a;transform:scaleX(0.93);transform-origin:0 0;">22</div>
<div class="t" style="left:196px;top:27.5px;font-size:12px;font-weight:bold;color:#fff;">3</div>
</div>
<div id="tb" style="position:absolute;left:0;top:0;width:1729px;height:24px;background:#f0f0f0;overflow:hidden;">
<div style="position:absolute;left:0;top:21px;width:1729px;height:1px;background:#e2e2e2"></div>
<div style="position:absolute;left:0;top:22px;width:1729px;height:1px;background:#a0a0a0"></div>
<div style="position:absolute;left:0;top:23px;width:1729px;height:1px;background:#696969"></div>
<svg width="1729" height="22" viewBox="0 0 1729 22" style="position:absolute;left:0;top:0">
<defs>
<linearGradient id="gp" x1="0" y1="0" x2="0" y2="1"><stop offset="0" stop-color="#7dff7d"/><stop offset="0.5" stop-color="#22d022"/><stop offset="1" stop-color="#008c00"/></linearGradient>
<linearGradient id="gold" x1="0" y1="0" x2="1" y2="1"><stop offset="0" stop-color="#ffe680"/><stop offset="0.5" stop-color="#e8b020"/><stop offset="1" stop-color="#b07800"/></linearGradient>
<linearGradient id="lens" x1="0" y1="0" x2="0" y2="1"><stop offset="0" stop-color="#d8ecff"/><stop offset="1" stop-color="#f4fbff"/></linearGradient>
<linearGradient id="clk" x1="0" y1="0" x2="0" y2="1"><stop offset="0" stop-color="#3b94f0"/><stop offset="1" stop-color="#0b4fb0"/></linearGradient>
<linearGradient id="badge" x1="0" y1="0" x2="0" y2="1"><stop offset="0" stop-color="#f05a38"/><stop offset="1" stop-color="#d81808"/></linearGradient>
<pattern id="chk" width="2" height="2" patternUnits="userSpaceOnUse"><rect width="2" height="2" fill="#ffffff"/><rect width="1" height="1" fill="#f0f0f0"/><rect x="1" y="1" width="1" height="1" fill="#f0f0f0"/></pattern>
<g id="axes" fill="none" stroke="#5a5a5a" stroke-width="1.1"><path d="M2.5 17.5V4.5M0 15.5H13"/><path d="M0.8 6.2L2.5 4L4.2 6.2M11.2 13.8L13.5 15.5L11.2 17.2" stroke-width="1.1"/></g>
<g id="dd"><polygon points="0,0 6,0 3,3.4" fill="#000"/></g>
<g id="grip" stroke="#a6a6a6" stroke-width="1" shape-rendering="crispEdges"><path d="M0 0.5H4M0 2.5H4M0 4.5H4M0 6.5H4M0 8.5H4M0 10.5H4M0 12.5H4M0 14.5H4M0 16.5H4M0 18.5H4"/></g>
</defs>
<rect x="-4" y="3.5" width="9.5" height="13" rx="1" fill="#fff" stroke="#3b80d0" stroke-width="1.3"/><path d="M0 7.5H4M0 10H4M0 12.5H4" stroke="#c4d8f8" stroke-width="0.8"/>
<rect x="19" y="3" width="12" height="12.5" rx="0.8" fill="#fdfdfb" stroke="#b4ac98" stroke-width="1"/><path d="M21.5 5V11M20.5 9H23M27.5 4.5V8" stroke="#666" stroke-width="1"/>
<path d="M30 14L35 19" stroke="url(#gold)" stroke-width="2.6" stroke-linecap="round"/><path d="M30 14L35 19" stroke="#c89818" stroke-width="2.2" stroke-linecap="round"/><circle cx="26.3" cy="10.8" r="4.8" fill="#e6f4fc" fill-opacity="0.9" stroke="#5c98e0" stroke-width="1.2"/><path d="M25.5 8.5V13.5M27 8.5V13" stroke="#a8b8c4" stroke-width="1"/>
<path d="M43.5 0V20" stroke="#9a9a9a" stroke-width="1" shape-rendering="crispEdges"/>
<path d="M54 3.5H61L64.5 7V15.5H54Z" fill="#fafafa" stroke="#666" stroke-width="1.1" stroke-linejoin="round"/><path d="M61 3.5V7H64.5" fill="none" stroke="#666" stroke-width="0.9"/><path d="M55.5 5.5H58" stroke="#777" stroke-width="1.4"/><path d="M55.5 8.5H61M55.5 10.5H60M55.5 12.5H58" stroke="#888" stroke-width="0.9"/>
<path d="M61.5 8.5H65V12H68.8V15.8H65V19.5H61.5V15.8H57.7V12H61.5Z" fill="url(#gp)" stroke="#008a00" stroke-width="0.9"/>
<path d="M120.5 12L126 3.5L136 8.5L131.5 17.5Z" fill="url(#gold)" stroke="#a87008" stroke-width="0.9" stroke-linejoin="round"/><path d="M120.5 12L121 14L131.8 19L131.5 17.5Z" fill="#c48c18" stroke="#8a5c00" stroke-width="0.7"/><path d="M131.5 17.5L136 8.5L136.3 10.5L131.8 19Z" fill="#e8d8a0" stroke="#8a5c00" stroke-width="0.6"/>
<path d="M150.5 3.5L154 2H161V12H150.5Z" fill="#2f9bf0" stroke="#1878d0" stroke-width="0.8"/><path d="M150.5 3.5L153.5 5V12H150.5Z" fill="#8fd0ff"/><rect x="155" y="6" width="5" height="2" fill="#dff"/><path d="M151 18.2C148 18.2 147.6 14.6 150.3 14.2C150.3 11.4 154.5 10.6 155.8 13C157.6 11.6 160.6 12.6 160.4 14.6C164.4 14.4 164.6 18.2 161.6 18.2Z" fill="#f2f6fc" stroke="#6f8cc0" stroke-width="1"/>
<circle cx="184" cy="10" r="7.6" fill="none" stroke="#9cc4a0" stroke-width="1.2"/><circle cx="184" cy="10" r="5.2" fill="none" stroke="#7c9ce0" stroke-width="1.3"/><circle cx="184" cy="10" r="2.8" fill="none" stroke="#4a6cd8" stroke-width="1.3"/><path d="M184 10L190 15.5A8 8 0 0 1 184 17.8Z" fill="#58b058" fill-opacity="0.8"/><circle cx="184" cy="10" r="1.4" fill="#2846c8"/><path d="M184.3 10V17.5" stroke="#18a018" stroke-width="1.4"/>
<path d="M204.5 9L218.5 9L212 17.5L209.5 17Z" fill="#ffd83a" stroke="#d8a010" stroke-width="0.8"/><ellipse cx="211" cy="7.3" rx="8" ry="2.6" fill="#4a98e0" stroke="#2870c0" stroke-width="0.7"/><path d="M206.5 7C206.5 1.5 215.5 1.5 215.5 7Z" fill="#6ab4f0" stroke="#2870c0" stroke-width="0.7"/><circle cx="215.6" cy="13.6" r="4.2" fill="#e02010" stroke="#b01000" stroke-width="0.6"/><rect x="214" y="12" width="3.2" height="3.2" fill="#fff"/>
<path d="M279.5 0V22" stroke="#a0a0a0" stroke-width="1" shape-rendering="crispEdges"/><path d="M280.5 0V22" stroke="#fff" stroke-width="1" shape-rendering="crispEdges"/>
<use href="#grip" x="283" y="0"/>
<use href="#axes" x="295" y="0"/><path d="M303.5 5.5V13M303.5 6H305.5M301.5 12.5H303.5" stroke="#18a018" stroke-width="1.3" fill="none"/>
<rect x="317" y="0" width="25" height="20" fill="url(#chk)"/><path d="M317.5 0V20" stroke="#9a9a9a" shape-rendering="crispEdges"/>
<use href="#axes" x="323" y="0"/><path d="M331.5 2.5V13.5" stroke="#109010" stroke-width="1.2"/><rect x="329.5" y="5" width="4" height="6.5" fill="#38e038" stroke="#109010" stroke-width="0.9"/>
<use href="#axes" x="351" y="0"/><path d="M352 12.8C355 10 357 7 358.5 7.3C360.5 7.8 362 10.5 363.8 11.3" stroke="#28a028" stroke-width="1.2" fill="none"/>
<path d="M374.5 0V20" stroke="#9a9a9a" stroke-width="1" shape-rendering="crispEdges"/>
<path d="M393 12.5L398 17.5" stroke="#a88010" stroke-width="3" stroke-linecap="round"/><path d="M393 12.5L398 17.5" stroke="#f0d048" stroke-width="1.6" stroke-linecap="round"/>
<circle cx="389" cy="8" r="5.3" fill="#e4f2fc" stroke="#3b84d8" stroke-width="1.3"/>
<path d="M386 8H392" stroke="#4a90d8" stroke-width="1.8"/>
<path d="M389 5V11" stroke="#4a90d8" stroke-width="1.8"/>
<path d="M421 12.5L426 17.5" stroke="#a88010" stroke-width="3" stroke-linecap="round"/><path d="M421 12.5L426 17.5" stroke="#f0d048" stroke-width="1.6" stroke-linecap="round"/>
<circle cx="417" cy="8" r="5.3" fill="#e4f2fc" stroke="#3b84d8" stroke-width="1.3"/>
<path d="M414 8H420" stroke="#4a90d8" stroke-width="1.8"/>
<rect x="439" y="2" width="8" height="7.8" fill="#48b020" stroke="#2c8c10" stroke-width="0.6"/><rect x="440.2" y="5" width="5.6" height="3.6" fill="#f4f8ff"/><rect x="440.2" y="6.4" width="5.6" height="0.9" fill="#48b020" fill-opacity="0.6"/>
<rect x="447.5" y="2" width="8" height="7.8" fill="#3868e0" stroke="#1838b0" stroke-width="0.6"/><rect x="448.7" y="5" width="5.6" height="3.6" fill="#f4f8ff"/><rect x="448.7" y="6.4" width="5.6" height="0.9" fill="#3868e0" fill-opacity="0.6"/>
<rect x="439" y="10.2" width="8" height="7.8" fill="#3868e0" stroke="#1838b0" stroke-width="0.6"/><rect x="440.2" y="13.2" width="5.6" height="3.6" fill="#f4f8ff"/><rect x="440.2" y="14.6" width="5.6" height="0.9" fill="#3868e0" fill-opacity="0.6"/>
<rect x="447.5" y="10.2" width="8" height="7.8" fill="#48b020" stroke="#2c8c10" stroke-width="0.6"/><rect x="448.7" y="13.2" width="5.6" height="3.6" fill="#f4f8ff"/><rect x="448.7" y="14.6" width="5.6" height="0.9" fill="#48b020" fill-opacity="0.6"/>
<path d="M464.5 0V20" stroke="#9a9a9a" stroke-width="1" shape-rendering="crispEdges"/>
<rect x="469" y="0" width="25" height="20" fill="url(#chk)"/><path d="M469.5 0V20" stroke="#9a9a9a" shape-rendering="crispEdges"/>
<use href="#axes" x="475" y="0"/><polygon points="482.3,6 486.3,9.5 482.3,13" fill="#48d048" stroke="#109010" stroke-width="0.9"/>
<rect x="497" y="0" width="25" height="20" fill="url(#chk)"/><path d="M497.5 0V20" stroke="#9a9a9a" shape-rendering="crispEdges"/>
<use href="#axes" x="503" y="0"/><path d="M511.5 4V14" stroke="#1878c0" stroke-width="1.2"/><path d="M512.5 9.5H517M514.8 7.5L512.6 9.5L514.8 11.5" stroke="#e04808" stroke-width="1.2" fill="none"/>
<path d="M526.5 0V20" stroke="#9a9a9a" stroke-width="1" shape-rendering="crispEdges"/>
<path d="M536.5 3H544L547.5 6.5V15.5H536.5Z" fill="#fafafa" stroke="#777" stroke-width="1" stroke-linejoin="round"/><path d="M544 3V6.5H547.5" fill="none" stroke="#777" stroke-width="0.8"/><path d="M541.5 5.5C539.5 5 539.5 6.5 539.5 8V13M538.3 8.5H541" stroke="#444" stroke-width="1" fill="none"/>
<path d="M544.5 8.5H548V12H551.8V15.8H548V19.5H544.5V15.8H540.7V12H544.5Z" fill="url(#gp)" stroke="#008a00" stroke-width="0.9"/>
<use href="#dd" x="557.5" y="9"/>
<circle cx="582" cy="10" r="7.6" fill="url(#clk)"/><circle cx="582" cy="10" r="5.4" fill="#f4f8fc"/><path d="M582 6V10.3H585" stroke="#333" stroke-width="1.1" fill="none"/><circle cx="582" cy="10" r="5.2" fill="none" stroke="#b0c4d8" stroke-width="0.6" stroke-dasharray="0.7 2"/>
<use href="#dd" x="596.5" y="9"/>
<rect x="613.5" y="3.5" width="15.5" height="13.5" fill="#fff" stroke="#3870c8" stroke-width="1.2"/><rect x="613.5" y="3.5" width="15.5" height="2.2" fill="#5c98e8"/><path d="M613.5 10.8H629" stroke="#3870c8" stroke-width="1"/><path d="M615.5 8.8L618 8.5L620 7.5L622.5 8.3L624.5 8L627 7.3" stroke="#b01808" stroke-width="1.2" fill="none"/><path d="M615.5 14.5L618 14.5L620 13.3L622 14.5L624.5 12.5L627 14.8" stroke="#189018" stroke-width="1.1" fill="none"/>
<use href="#dd" x="635.5" y="9"/>
<path d="M647.5 0V22" stroke="#a0a0a0" stroke-width="1" shape-rendering="crispEdges"/><path d="M648.5 0V22" stroke="#fff" stroke-width="1" shape-rendering="crispEdges"/>
<use href="#grip" x="651" y="0"/>
<rect x="657" y="0" width="25" height="20" fill="url(#chk)"/><path d="M657.5 0V20" stroke="#9a9a9a" shape-rendering="crispEdges"/>
<path d="M665 3V14.3L667.8 11.8L670.2 17L672 16.2L669.7 11.2L673.3 10.8Z" fill="#505050"/>
<path d="M697.5 3V9M697.5 12V18M690 10.5H696M699 10.5H705" stroke="#505050" stroke-width="1" shape-rendering="crispEdges"/><rect x="697" y="10" width="1" height="1" fill="#888"/>
<path d="M714.5 0V20" stroke="#9a9a9a" stroke-width="1" shape-rendering="crispEdges"/>
<path d="M731.5 4V17" stroke="#505050" stroke-width="1" shape-rendering="crispEdges"/><path d="M754 10.5H766" stroke="#505050" stroke-width="1" shape-rendering="crispEdges"/><path d="M782 17L794.5 5" stroke="#505050" stroke-width="1.1"/>
<path d="M808 12.5L821 3.5M810 17L822.5 8" stroke="#505050" stroke-width="1"/><path d="M811 15.5L813 7.5L815 13L817 5.5L819 11L820 2.5" stroke="#505050" stroke-width="0.9" fill="none"/>
<path d="M837 3.5H850" stroke="#505050" stroke-width="1" stroke-dasharray="1 1" shape-rendering="crispEdges"/>
<path d="M837 6.5H850" stroke="#505050" stroke-width="1" stroke-dasharray="1 1" shape-rendering="crispEdges"/>
<path d="M837 10.5H850" stroke="#505050" stroke-width="1" stroke-dasharray="1 1" shape-rendering="crispEdges"/>
<path d="M837 14.5H846" stroke="#505050" stroke-width="1" stroke-dasharray="1 1" shape-rendering="crispEdges"/>
<rect x="894.5" y="4.5" width="11" height="12" fill="none" stroke="#505050" stroke-width="1" stroke-dasharray="1 1" shape-rendering="crispEdges"/><rect x="893" y="3" width="2" height="2" fill="#505050"/>
<polygon points="924.5,4 927.5,7.5 924.5,8.8 921.5,7.5" fill="#505050"/><polygon points="932,17 929,13.5 932,12.2 935,13.5" fill="#505050"/><path d="M924 11L926.5 13L930.5 8.5" stroke="#505050" stroke-width="1.2" fill="none"/>
<use href="#dd" x="941.5" y="9"/>
<path d="M953.5 0V22" stroke="#a0a0a0" stroke-width="1" shape-rendering="crispEdges"/><path d="M954.5 0V22" stroke="#fff" stroke-width="1" shape-rendering="crispEdges"/>
<use href="#grip" x="957" y="0"/>
<rect x="1131" y="0" width="25" height="20" fill="url(#chk)"/><path d="M1131.5 0V20" stroke="#9a9a9a" shape-rendering="crispEdges"/>
<path d="M1214.5 0V20" stroke="#9a9a9a" stroke-width="1" shape-rendering="crispEdges"/>
<circle cx="1684.5" cy="7.5" r="4" fill="#f4f6ff" stroke="#2858d0" stroke-width="1.1"/><path d="M1681.5 10.8L1677 15.3" stroke="#2858d0" stroke-width="2.2" stroke-linecap="round"/>
<ellipse cx="1706.5" cy="11.8" rx="5.6" ry="4.7" fill="#e6e8f0" stroke="#b4b4b4" stroke-width="0.9"/><path d="M1703.5 15.5L1704.5 18.5L1707.5 16.2Z" fill="#dcdee8" stroke="#b4b4b4" stroke-width="0.7"/>
<circle cx="1715.5" cy="7" r="8.2" fill="url(#badge)"/>
</svg>
<div class="t" style="left:71.4px;top:2.6px;font-size:12px;color:#000;font-family:'Noto Sans CJK SC',sans-serif;letter-spacing:0.5px;">新订单</div>
<div class="t" style="left:223.8px;top:2.6px;font-size:12px;color:#000;font-family:'Noto Sans CJK SC',sans-serif;letter-spacing:0px;">自动交易</div>
<div class="t" style="left:819px;top:13.4px;font-size:7px;color:#404040;font-weight:bold;">E</div>
<div class="t" style="left:847px;top:13.4px;font-size:7px;color:#404040;font-weight:bold;">F</div>
<div class="t" style="left:867.0px;top:4.0px;font-size:13px;color:#505050;-webkit-text-stroke:0.3px #505050;">A</div>
<div class="t" style="left:896.3px;top:5.6px;font-size:11.5px;color:#505050;font-weight:bold;">T</div>
<div class="t" style="left:955px;width:40px;text-align:center;top:7px;font-size:10px;color:#444;text-rendering:geometricPrecision;-webkit-text-stroke:0.15px;">M1</div>
<div class="t" style="left:983px;width:40px;text-align:center;top:7px;font-size:10px;color:#444;text-rendering:geometricPrecision;-webkit-text-stroke:0.15px;">M5</div>
<div class="t" style="left:1011px;width:40px;text-align:center;top:7px;font-size:10px;color:#444;text-rendering:geometricPrecision;-webkit-text-stroke:0.15px;">M15</div>
<div class="t" style="left:1039px;width:40px;text-align:center;top:7px;font-size:10px;color:#444;text-rendering:geometricPrecision;-webkit-text-stroke:0.15px;">M30</div>
<div class="t" style="left:1067px;width:40px;text-align:center;top:7px;font-size:10px;color:#444;text-rendering:geometricPrecision;-webkit-text-stroke:0.15px;">H1</div>
<div class="t" style="left:1095px;width:40px;text-align:center;top:7px;font-size:10px;color:#444;text-rendering:geometricPrecision;-webkit-text-stroke:0.15px;">H4</div>
<div class="t" style="left:1123px;width:40px;text-align:center;top:7px;font-size:10px;color:#444;text-rendering:geometricPrecision;-webkit-text-stroke:0.15px;">D1</div>
<div class="t" style="left:1151px;width:40px;text-align:center;top:7px;font-size:10px;color:#444;text-rendering:geometricPrecision;-webkit-text-stroke:0.15px;">W1</div>
<div class="t" style="left:1179px;width:40px;text-align:center;top:7px;font-size:10px;color:#444;text-rendering:geometricPrecision;-webkit-text-stroke:0.15px;">MN</div>
<div class="t" style="left:1711.3px;top:0.2px;font-size:14px;color:#fff;font-weight:bold;font-family:'Liberation Serif',serif;">1</div>
</div>
</div></body></html>
